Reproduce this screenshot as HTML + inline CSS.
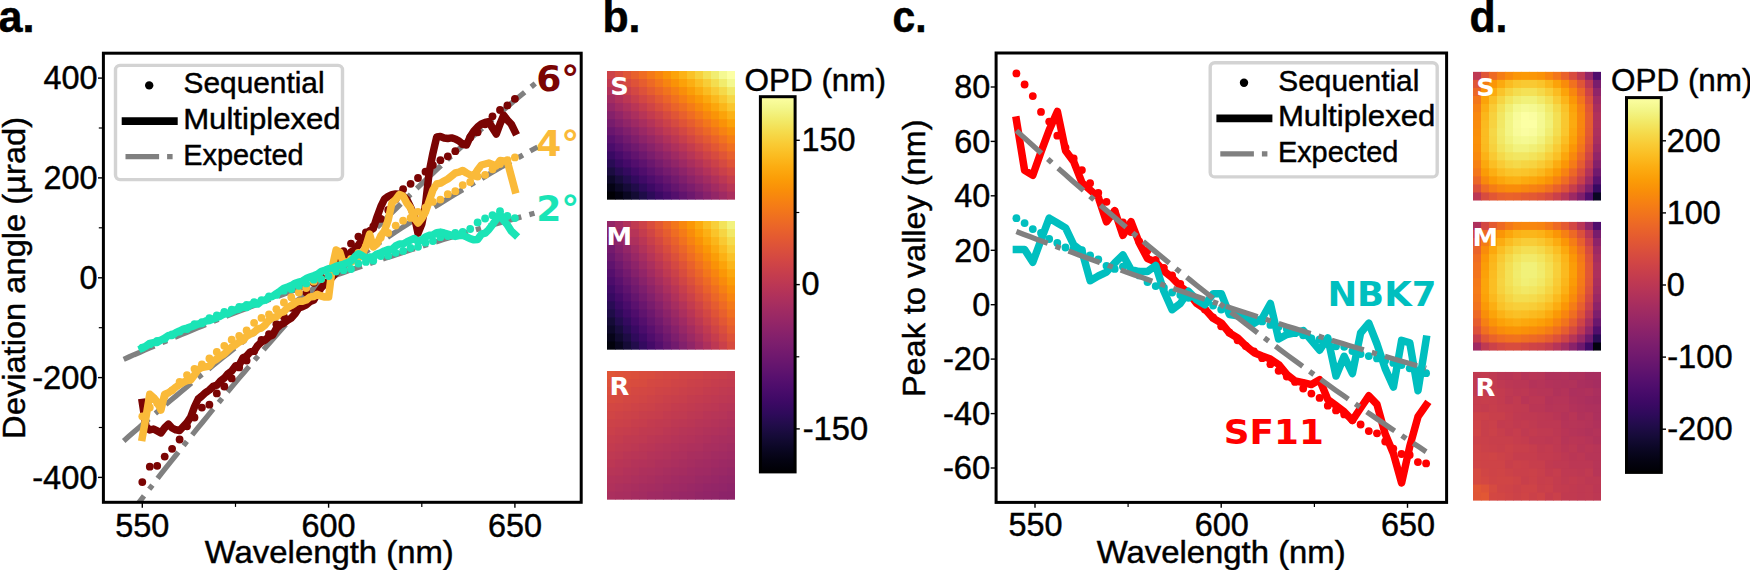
<!DOCTYPE html>
<html lang="en"><head><meta charset="utf-8"><title>Figure</title>
<style>html,body{margin:0;padding:0;background:#fff;overflow:hidden}svg{display:block}text{white-space:pre}</style>
</head><body>
<svg width="1750" height="570" viewBox="0 0 1750 570">
<rect width="1750" height="570" fill="#fff"/>
<defs>
<linearGradient id="inf" x1="0" y1="0" x2="0" y2="1"><stop offset="0.0000" stop-color="#fcffa4"/><stop offset="0.0312" stop-color="#f3f68a"/><stop offset="0.0625" stop-color="#f2ea69"/><stop offset="0.0938" stop-color="#f5db4c"/><stop offset="0.1250" stop-color="#f9cb35"/><stop offset="0.1562" stop-color="#fbbc21"/><stop offset="0.1875" stop-color="#fcac11"/><stop offset="0.2188" stop-color="#fb9d07"/><stop offset="0.2500" stop-color="#f98e09"/><stop offset="0.2812" stop-color="#f68013"/><stop offset="0.3125" stop-color="#f1731d"/><stop offset="0.3438" stop-color="#eb6628"/><stop offset="0.3750" stop-color="#e45a31"/><stop offset="0.4062" stop-color="#db503b"/><stop offset="0.4375" stop-color="#d24644"/><stop offset="0.4688" stop-color="#c73e4c"/><stop offset="0.5000" stop-color="#bc3754"/><stop offset="0.5312" stop-color="#b0315b"/><stop offset="0.5625" stop-color="#a32c61"/><stop offset="0.5938" stop-color="#972766"/><stop offset="0.6250" stop-color="#8a226a"/><stop offset="0.6562" stop-color="#7d1e6d"/><stop offset="0.6875" stop-color="#71196e"/><stop offset="0.7188" stop-color="#64156e"/><stop offset="0.7500" stop-color="#57106e"/><stop offset="0.7812" stop-color="#4a0c6b"/><stop offset="0.8125" stop-color="#3d0965"/><stop offset="0.8438" stop-color="#2f0a5b"/><stop offset="0.8750" stop-color="#210c4a"/><stop offset="0.9062" stop-color="#150b37"/><stop offset="0.9375" stop-color="#0b0724"/><stop offset="0.9688" stop-color="#040312"/><stop offset="1.0000" stop-color="#000004"/></linearGradient>
<clipPath id="clipA"><rect x="103.4" y="53.2" width="477.8" height="449.1"/></clipPath>
<clipPath id="clipC"><rect x="996.1" y="53.0" width="450.5" height="449.4"/></clipPath>
</defs>
<g clip-path="url(#clipA)">
<path d="M123.7,522.5 L128.9,515.6 L134.1,508.7 L139.4,501.9 L144.6,495.1 L149.9,488.3 L155.1,481.6 L160.3,474.9 L165.6,468.2 L170.8,461.6 L176.1,455.0 L181.3,448.4 L186.5,441.9 L191.8,435.4 L197.0,428.9 L202.3,422.5 L207.5,416.1 L212.7,409.7 L218.0,403.4 L223.2,397.1 L228.5,390.8 L233.7,384.6 L238.9,378.4 L244.2,372.3 L249.4,366.1 L254.7,360.1 L259.9,354.0 L265.1,348.0 L270.4,342.0 L275.6,336.0 L280.9,330.1 L286.1,324.2 L291.3,318.4 L296.6,312.6 L301.8,306.8 L307.1,301.0 L312.3,295.3 L317.5,289.6 L322.8,284.0 L328.0,278.4 L333.3,272.8 L338.5,267.2 L343.7,261.7 L349.0,256.2 L354.2,250.8 L359.5,245.4 L364.7,240.0 L369.9,234.7 L375.2,229.4 L380.4,224.1 L385.7,218.8 L390.9,213.6 L396.1,208.5 L401.4,203.3 L406.6,198.2 L411.9,193.1 L417.1,188.1 L422.3,183.1 L427.6,178.1 L432.8,173.2 L438.1,168.3 L443.3,163.4 L448.5,158.6 L453.8,153.8 L459.0,149.0 L464.3,144.3 L469.5,139.6 L474.7,134.9 L480.0,130.3 L485.2,125.7 L490.5,121.1 L495.7,116.6 L500.9,112.1 L506.2,107.7 L511.4,103.2 L516.7,98.8 L521.9,94.5 L527.1,90.2 L532.4,85.9 L537.6,81.6" fill="none" stroke="#808080" stroke-width="5.3" stroke-linejoin="round" stroke-linecap="butt" stroke-dasharray="33.5 8.4 5.3 8.4"/>
<path d="M123.7,440.9 L128.9,436.3 L134.1,431.7 L139.4,427.2 L144.6,422.6 L149.9,418.1 L155.1,413.6 L160.3,409.2 L165.6,404.7 L170.8,400.3 L176.1,395.9 L181.3,391.5 L186.5,387.2 L191.8,382.8 L197.0,378.5 L202.3,374.2 L207.5,370.0 L212.7,365.7 L218.0,361.5 L223.2,357.3 L228.5,353.1 L233.7,349.0 L238.9,344.9 L244.2,340.8 L249.4,336.7 L254.7,332.6 L259.9,328.6 L265.1,324.6 L270.4,320.6 L275.6,316.6 L280.9,312.7 L286.1,308.7 L291.3,304.8 L296.6,301.0 L301.8,297.1 L307.1,293.3 L312.3,289.5 L317.5,285.7 L322.8,281.9 L328.0,278.2 L333.3,274.4 L338.5,270.7 L343.7,267.1 L349.0,263.4 L354.2,259.8 L359.5,256.2 L364.7,252.6 L369.9,249.0 L375.2,245.5 L380.4,242.0 L385.7,238.5 L390.9,235.0 L396.1,231.6 L401.4,228.1 L406.6,224.7 L411.9,221.3 L417.1,218.0 L422.3,214.6 L427.6,211.3 L432.8,208.0 L438.1,204.8 L443.3,201.5 L448.5,198.3 L453.8,195.1 L459.0,191.9 L464.3,188.8 L469.5,185.6 L474.7,182.5 L480.0,179.5 L485.2,176.4 L490.5,173.3 L495.7,170.3 L500.9,167.3 L506.2,164.4 L511.4,161.4 L516.7,158.5 L521.9,155.6 L527.1,152.7 L532.4,149.8 L537.6,147.0" fill="none" stroke="#808080" stroke-width="5.3" stroke-linejoin="round" stroke-linecap="butt" stroke-dasharray="33.5 8.4 5.3 8.4"/>
<path d="M123.7,359.3 L128.9,357.0 L134.1,354.7 L139.4,352.5 L144.6,350.2 L149.9,347.9 L155.1,345.7 L160.3,343.5 L165.6,341.2 L170.8,339.0 L176.1,336.8 L181.3,334.6 L186.5,332.5 L191.8,330.3 L197.0,328.1 L202.3,326.0 L207.5,323.9 L212.7,321.7 L218.0,319.6 L223.2,317.5 L228.5,315.4 L233.7,313.4 L238.9,311.3 L244.2,309.3 L249.4,307.2 L254.7,305.2 L259.9,303.2 L265.1,301.2 L270.4,299.2 L275.6,297.2 L280.9,295.2 L286.1,293.2 L291.3,291.3 L296.6,289.4 L301.8,287.4 L307.1,285.5 L312.3,283.6 L317.5,281.7 L322.8,279.8 L328.0,278.0 L333.3,276.1 L338.5,274.2 L343.7,272.4 L349.0,270.6 L354.2,268.8 L359.5,267.0 L364.7,265.2 L369.9,263.4 L375.2,261.6 L380.4,259.9 L385.7,258.1 L390.9,256.4 L396.1,254.7 L401.4,252.9 L406.6,251.2 L411.9,249.5 L417.1,247.9 L422.3,246.2 L427.6,244.5 L432.8,242.9 L438.1,241.3 L443.3,239.6 L448.5,238.0 L453.8,236.4 L459.0,234.8 L464.3,233.3 L469.5,231.7 L474.7,230.1 L480.0,228.6 L485.2,227.1 L490.5,225.5 L495.7,224.0 L500.9,222.5 L506.2,221.1 L511.4,219.6 L516.7,218.1 L521.9,216.7 L527.1,215.2 L532.4,213.8 L537.6,212.4" fill="none" stroke="#808080" stroke-width="5.3" stroke-linejoin="round" stroke-linecap="butt" stroke-dasharray="33.5 8.4 5.3 8.4"/>
<g fill="#7a0403"><circle cx="142.3" cy="482.1" r="3.9"/><circle cx="149.8" cy="466.7" r="3.9"/><circle cx="157.2" cy="465.8" r="3.9"/><circle cx="164.7" cy="456.6" r="3.9"/><circle cx="172.1" cy="448.8" r="3.9"/><circle cx="179.6" cy="439.5" r="3.9"/><circle cx="187.0" cy="426.3" r="3.9"/><circle cx="194.5" cy="417.5" r="3.9"/><circle cx="201.9" cy="407.6" r="3.9"/><circle cx="209.4" cy="404.7" r="3.9"/><circle cx="216.8" cy="393.4" r="3.9"/><circle cx="224.3" cy="386.5" r="3.9"/><circle cx="231.7" cy="378.4" r="3.9"/><circle cx="239.2" cy="367.4" r="3.9"/><circle cx="246.6" cy="360.6" r="3.9"/><circle cx="254.1" cy="351.2" r="3.9"/><circle cx="261.5" cy="339.8" r="3.9"/><circle cx="269.0" cy="334.1" r="3.9"/><circle cx="276.4" cy="324.2" r="3.9"/><circle cx="283.9" cy="316.7" r="3.9"/><circle cx="291.3" cy="307.8" r="3.9"/><circle cx="298.8" cy="301.7" r="3.9"/><circle cx="306.2" cy="292.3" r="3.9"/><circle cx="313.7" cy="282.8" r="3.9"/><circle cx="321.1" cy="276.9" r="3.9"/><circle cx="328.6" cy="270.2" r="3.9"/><circle cx="336.1" cy="259.7" r="3.9"/><circle cx="343.5" cy="251.2" r="3.9"/><circle cx="351.0" cy="243.6" r="3.9"/><circle cx="358.4" cy="236.6" r="3.9"/><circle cx="365.9" cy="232.5" r="3.9"/><circle cx="373.3" cy="226.3" r="3.9"/><circle cx="380.8" cy="218.9" r="3.9"/><circle cx="388.2" cy="210.0" r="3.9"/><circle cx="395.7" cy="199.1" r="3.9"/><circle cx="403.1" cy="189.2" r="3.9"/><circle cx="410.6" cy="183.8" r="3.9"/><circle cx="418.0" cy="178.0" r="3.9"/><circle cx="425.5" cy="171.7" r="3.9"/><circle cx="432.9" cy="165.1" r="3.9"/><circle cx="440.4" cy="160.2" r="3.9"/><circle cx="447.8" cy="156.3" r="3.9"/><circle cx="455.3" cy="151.2" r="3.9"/><circle cx="462.7" cy="143.9" r="3.9"/><circle cx="470.2" cy="137.4" r="3.9"/><circle cx="477.6" cy="132.3" r="3.9"/><circle cx="485.1" cy="124.3" r="3.9"/><circle cx="492.5" cy="116.3" r="3.9"/><circle cx="500.0" cy="109.9" r="3.9"/><circle cx="507.4" cy="105.4" r="3.9"/><circle cx="514.9" cy="98.8" r="3.9"/></g>
<path d="M142.3,402.5 L146.0,426.5 L149.8,430.0 L153.5,429.0 L157.2,430.9 L160.9,432.9 L164.7,427.8 L168.4,424.2 L172.1,428.0 L175.8,429.8 L179.6,430.5 L183.3,426.5 L187.0,422.6 L190.7,417.0 L194.5,406.9 L198.2,399.0 L201.9,396.0 L205.6,392.6 L209.4,390.0 L213.1,386.3 L216.8,385.2 L220.5,381.0 L224.3,378.1 L228.0,373.7 L231.7,371.0 L235.5,365.9 L239.2,365.0 L242.9,357.9 L246.6,356.0 L250.4,351.8 L254.1,351.0 L257.8,345.4 L261.5,342.0 L265.3,339.9 L269.0,336.7 L272.7,335.0 L276.4,328.4 L280.2,325.0 L283.9,323.1 L287.6,320.2 L291.3,318.0 L295.1,313.8 L298.8,308.0 L302.5,306.7 L306.2,304.8 L310.0,301.7 L313.7,300.0 L317.4,293.6 L321.1,288.0 L324.9,284.1 L328.6,281.3 L332.3,277.0 L336.1,272.6 L339.8,267.2 L343.5,262.0 L347.2,256.3 L351.0,252.0 L354.7,249.8 L358.4,245.0 L362.1,240.0 L365.9,235.5 L369.6,230.7 L373.3,228.6 L377.0,217.0 L380.8,206.7 L384.5,199.0 L388.2,196.4 L391.9,194.7 L395.7,194.0 L399.4,194.2 L403.1,196.0 L406.8,199.5 L410.6,207.2 L414.3,216.0 L418.0,233.2 L421.8,224.0 L425.5,205.0 L429.2,172.0 L432.9,153.3 L436.7,137.0 L440.4,136.5 L444.1,138.0 L447.8,138.5 L451.6,137.9 L455.3,139.0 L459.0,141.0 L462.7,144.1 L466.5,145.0 L470.2,136.8 L473.9,131.0 L477.6,127.0 L481.4,124.0 L485.1,122.5 L488.8,121.6 L492.5,128.0 L496.3,134.0 L500.0,124.0 L503.7,115.3 L507.4,120.1 L511.2,124.0 L514.9,131.5" fill="none" stroke="#7a0403" stroke-width="7.5" stroke-linejoin="round" stroke-linecap="square"/>
<g fill="#faba39"><circle cx="142.3" cy="416.3" r="3.9"/><circle cx="149.8" cy="407.5" r="3.9"/><circle cx="157.2" cy="403.1" r="3.9"/><circle cx="164.7" cy="396.3" r="3.9"/><circle cx="172.1" cy="390.3" r="3.9"/><circle cx="179.6" cy="382.0" r="3.9"/><circle cx="187.0" cy="375.1" r="3.9"/><circle cx="194.5" cy="368.8" r="3.9"/><circle cx="201.9" cy="364.3" r="3.9"/><circle cx="209.4" cy="358.4" r="3.9"/><circle cx="216.8" cy="352.0" r="3.9"/><circle cx="224.3" cy="345.8" r="3.9"/><circle cx="231.7" cy="339.7" r="3.9"/><circle cx="239.2" cy="335.8" r="3.9"/><circle cx="246.6" cy="330.5" r="3.9"/><circle cx="254.1" cy="322.8" r="3.9"/><circle cx="261.5" cy="317.9" r="3.9"/><circle cx="269.0" cy="314.4" r="3.9"/><circle cx="276.4" cy="309.2" r="3.9"/><circle cx="283.9" cy="302.4" r="3.9"/><circle cx="291.3" cy="297.2" r="3.9"/><circle cx="298.8" cy="292.6" r="3.9"/><circle cx="306.2" cy="288.0" r="3.9"/><circle cx="313.7" cy="281.7" r="3.9"/><circle cx="321.1" cy="279.1" r="3.9"/><circle cx="328.6" cy="273.4" r="3.9"/><circle cx="336.1" cy="268.8" r="3.9"/><circle cx="343.5" cy="261.8" r="3.9"/><circle cx="351.0" cy="258.8" r="3.9"/><circle cx="358.4" cy="253.0" r="3.9"/><circle cx="365.9" cy="246.6" r="3.9"/><circle cx="373.3" cy="243.3" r="3.9"/><circle cx="380.8" cy="237.5" r="3.9"/><circle cx="388.2" cy="232.9" r="3.9"/><circle cx="395.7" cy="225.6" r="3.9"/><circle cx="403.1" cy="220.7" r="3.9"/><circle cx="410.6" cy="217.9" r="3.9"/><circle cx="418.0" cy="211.8" r="3.9"/><circle cx="425.5" cy="207.6" r="3.9"/><circle cx="432.9" cy="201.8" r="3.9"/><circle cx="440.4" cy="199.6" r="3.9"/><circle cx="447.8" cy="194.2" r="3.9"/><circle cx="455.3" cy="191.2" r="3.9"/><circle cx="462.7" cy="185.1" r="3.9"/><circle cx="470.2" cy="182.0" r="3.9"/><circle cx="477.6" cy="176.5" r="3.9"/><circle cx="485.1" cy="174.8" r="3.9"/><circle cx="492.5" cy="169.3" r="3.9"/><circle cx="500.0" cy="164.1" r="3.9"/><circle cx="507.4" cy="160.1" r="3.9"/><circle cx="514.9" cy="157.4" r="3.9"/></g>
<path d="M142.3,437.5 L146.0,417.0 L149.8,394.2 L153.5,397.5 L157.2,402.0 L160.9,410.0 L164.7,394.2 L168.4,392.9 L172.1,390.3 L175.8,387.1 L179.6,384.7 L183.3,382.2 L187.0,380.6 L190.7,380.0 L194.5,375.0 L198.2,369.5 L201.9,367.5 L205.6,366.9 L209.4,366.0 L213.1,361.3 L216.8,359.0 L220.5,356.1 L224.3,354.0 L228.0,350.2 L231.7,347.0 L235.5,344.9 L239.2,342.0 L242.9,340.5 L246.6,336.1 L250.4,334.0 L254.1,332.3 L257.8,328.8 L261.5,328.0 L265.3,324.8 L269.0,320.0 L272.7,317.6 L276.4,316.7 L280.2,313.0 L283.9,311.8 L287.6,307.5 L291.3,305.5 L295.1,303.0 L298.8,301.2 L302.5,301.2 L306.2,300.0 L310.0,296.9 L313.7,296.6 L317.4,294.3 L321.1,296.0 L324.9,297.0 L328.6,297.0 L332.3,267.2 L336.1,250.0 L339.8,252.0 L343.5,264.0 L347.2,261.8 L351.0,262.0 L354.7,259.7 L358.4,258.0 L362.1,254.8 L365.9,246.0 L369.6,234.2 L373.3,247.0 L377.0,243.8 L380.8,235.8 L384.5,230.9 L388.2,220.0 L391.9,203.0 L395.7,199.4 L399.4,194.5 L403.1,196.0 L406.8,203.0 L410.6,208.0 L414.3,218.0 L418.0,223.0 L421.8,218.4 L425.5,211.9 L429.2,201.0 L432.9,190.0 L436.7,184.0 L440.4,183.2 L444.1,181.0 L447.8,179.0 L451.6,176.0 L455.3,173.0 L459.0,172.2 L462.7,170.5 L466.5,173.0 L470.2,174.8 L473.9,176.0 L477.6,170.0 L481.4,165.0 L485.1,164.0 L488.8,163.0 L492.5,164.4 L496.3,166.0 L500.0,160.5 L503.7,161.0 L507.4,161.6 L511.2,176.0 L514.9,189.8" fill="none" stroke="#faba39" stroke-width="7.5" stroke-linejoin="round" stroke-linecap="square"/>
<g fill="#1ae4b6"><circle cx="142.3" cy="347.7" r="3.9"/><circle cx="149.8" cy="344.2" r="3.9"/><circle cx="157.2" cy="341.0" r="3.9"/><circle cx="164.7" cy="338.8" r="3.9"/><circle cx="172.1" cy="334.5" r="3.9"/><circle cx="179.6" cy="331.6" r="3.9"/><circle cx="187.0" cy="329.0" r="3.9"/><circle cx="194.5" cy="324.2" r="3.9"/><circle cx="201.9" cy="322.2" r="3.9"/><circle cx="209.4" cy="318.2" r="3.9"/><circle cx="216.8" cy="315.4" r="3.9"/><circle cx="224.3" cy="312.0" r="3.9"/><circle cx="231.7" cy="309.7" r="3.9"/><circle cx="239.2" cy="306.8" r="3.9"/><circle cx="246.6" cy="304.8" r="3.9"/><circle cx="254.1" cy="302.1" r="3.9"/><circle cx="261.5" cy="300.1" r="3.9"/><circle cx="269.0" cy="296.4" r="3.9"/><circle cx="276.4" cy="294.9" r="3.9"/><circle cx="283.9" cy="290.7" r="3.9"/><circle cx="291.3" cy="289.0" r="3.9"/><circle cx="298.8" cy="285.8" r="3.9"/><circle cx="306.2" cy="283.4" r="3.9"/><circle cx="313.7" cy="279.7" r="3.9"/><circle cx="321.1" cy="279.1" r="3.9"/><circle cx="328.6" cy="276.1" r="3.9"/><circle cx="336.1" cy="271.6" r="3.9"/><circle cx="343.5" cy="270.2" r="3.9"/><circle cx="351.0" cy="269.0" r="3.9"/><circle cx="358.4" cy="263.6" r="3.9"/><circle cx="365.9" cy="261.9" r="3.9"/><circle cx="373.3" cy="260.7" r="3.9"/><circle cx="380.8" cy="256.1" r="3.9"/><circle cx="388.2" cy="255.8" r="3.9"/><circle cx="395.7" cy="252.8" r="3.9"/><circle cx="403.1" cy="250.9" r="3.9"/><circle cx="410.6" cy="248.0" r="3.9"/><circle cx="418.0" cy="246.8" r="3.9"/><circle cx="425.5" cy="242.7" r="3.9"/><circle cx="432.9" cy="241.1" r="3.9"/><circle cx="440.4" cy="237.2" r="3.9"/><circle cx="447.8" cy="236.0" r="3.9"/><circle cx="455.3" cy="232.8" r="3.9"/><circle cx="462.7" cy="231.8" r="3.9"/><circle cx="470.2" cy="229.0" r="3.9"/><circle cx="477.6" cy="222.4" r="3.9"/><circle cx="485.1" cy="218.5" r="3.9"/><circle cx="492.5" cy="215.2" r="3.9"/><circle cx="500.0" cy="211.2" r="3.9"/><circle cx="507.4" cy="216.0" r="3.9"/><circle cx="514.9" cy="218.1" r="3.9"/></g>
<path d="M142.3,348.0 L146.0,346.1 L149.8,343.4 L153.5,342.6 L157.2,342.4 L160.9,340.0 L164.7,338.1 L168.4,335.5 L172.1,335.6 L175.8,332.7 L179.6,331.0 L183.3,329.1 L187.0,328.1 L190.7,326.9 L194.5,325.7 L198.2,324.0 L201.9,323.6 L205.6,321.0 L209.4,320.5 L213.1,319.0 L216.8,317.7 L220.5,316.0 L224.3,314.0 L228.0,313.8 L231.7,311.6 L235.5,309.8 L239.2,309.0 L242.9,306.8 L246.6,307.6 L250.4,304.9 L254.1,303.8 L257.8,304.0 L261.5,301.0 L265.3,300.2 L269.0,297.3 L272.7,296.3 L276.4,293.6 L280.2,291.0 L283.9,288.2 L287.6,287.0 L291.3,285.6 L295.1,283.3 L298.8,282.1 L302.5,281.0 L306.2,278.6 L310.0,277.1 L313.7,275.7 L317.4,274.2 L321.1,271.6 L324.9,270.2 L328.6,268.7 L332.3,268.2 L336.1,266.3 L339.8,265.1 L343.5,264.3 L347.2,262.8 L351.0,261.0 L354.7,256.9 L358.4,253.7 L362.1,255.6 L365.9,258.0 L369.6,257.1 L373.3,257.0 L377.0,254.0 L380.8,252.9 L384.5,250.9 L388.2,249.5 L391.9,249.5 L395.7,245.9 L399.4,244.0 L403.1,244.0 L406.8,242.0 L410.6,240.2 L414.3,238.5 L418.0,241.6 L421.8,240.0 L425.5,237.0 L429.2,235.3 L432.9,235.0 L436.7,232.6 L440.4,232.1 L444.1,233.0 L447.8,234.1 L451.6,235.3 L455.3,236.4 L459.0,235.6 L462.7,235.3 L466.5,236.9 L470.2,238.7 L473.9,239.8 L477.6,239.5 L481.4,234.2 L485.1,233.2 L488.8,229.6 L492.5,224.7 L496.3,219.3 L500.0,214.2 L503.7,220.5 L507.4,224.9 L511.2,231.0 L514.9,234.5" fill="none" stroke="#1ae4b6" stroke-width="7.5" stroke-linejoin="round" stroke-linecap="square"/>
</g>
<rect x="103.4" y="53.2" width="477.8" height="449.1" fill="none" stroke="#000" stroke-width="3.0"/>
<path d="M142.3,502.3 v5.4" stroke="#000" stroke-width="1.4"/>
<path d="M328.6,502.3 v5.4" stroke="#000" stroke-width="1.4"/>
<path d="M514.9,502.3 v5.4" stroke="#000" stroke-width="1.4"/>
<path d="M235.5,502.3 v4.6" stroke="#000" stroke-width="1.2"/>
<path d="M421.8,502.3 v4.6" stroke="#000" stroke-width="1.2"/>
<path d="M103.4,78.1 h-5.4" stroke="#000" stroke-width="1.4"/>
<path d="M103.4,177.9 h-5.4" stroke="#000" stroke-width="1.4"/>
<path d="M103.4,277.8 h-5.4" stroke="#000" stroke-width="1.4"/>
<path d="M103.4,377.6 h-5.4" stroke="#000" stroke-width="1.4"/>
<path d="M103.4,477.4 h-5.4" stroke="#000" stroke-width="1.4"/>
<path d="M103.4,128.0 h-4.6" stroke="#000" stroke-width="1.2"/>
<path d="M103.4,227.8 h-4.6" stroke="#000" stroke-width="1.2"/>
<path d="M103.4,327.7 h-4.6" stroke="#000" stroke-width="1.2"/>
<path d="M103.4,427.5 h-4.6" stroke="#000" stroke-width="1.2"/>
<text x="97.6" y="89.4" font-size="32.5" font-family="'Liberation Sans', sans-serif" text-anchor="end" textLength="54.0" lengthAdjust="spacingAndGlyphs" stroke="#000" stroke-width="0.45">400</text>
<text x="97.6" y="189.2" font-size="32.5" font-family="'Liberation Sans', sans-serif" text-anchor="end" textLength="54.0" lengthAdjust="spacingAndGlyphs" stroke="#000" stroke-width="0.45">200</text>
<text x="97.6" y="289.1" font-size="32.5" font-family="'Liberation Sans', sans-serif" text-anchor="end" textLength="18.0" lengthAdjust="spacingAndGlyphs" stroke="#000" stroke-width="0.45">0</text>
<text x="97.6" y="388.9" font-size="32.5" font-family="'Liberation Sans', sans-serif" text-anchor="end" textLength="65.4" lengthAdjust="spacingAndGlyphs" stroke="#000" stroke-width="0.45">-200</text>
<text x="97.6" y="488.7" font-size="32.5" font-family="'Liberation Sans', sans-serif" text-anchor="end" textLength="65.4" lengthAdjust="spacingAndGlyphs" stroke="#000" stroke-width="0.45">-400</text>
<text x="142.3" y="536.6" font-size="32.5" font-family="'Liberation Sans', sans-serif" text-anchor="middle" textLength="54.0" lengthAdjust="spacingAndGlyphs" stroke="#000" stroke-width="0.45">550</text>
<text x="328.6" y="536.6" font-size="32.5" font-family="'Liberation Sans', sans-serif" text-anchor="middle" textLength="54.0" lengthAdjust="spacingAndGlyphs" stroke="#000" stroke-width="0.45">600</text>
<text x="514.9" y="536.6" font-size="32.5" font-family="'Liberation Sans', sans-serif" text-anchor="middle" textLength="54.0" lengthAdjust="spacingAndGlyphs" stroke="#000" stroke-width="0.45">650</text>
<text x="329.3" y="563.0" font-size="31.5" font-family="'Liberation Sans', sans-serif" text-anchor="middle" textLength="249.0" lengthAdjust="spacingAndGlyphs" stroke="#000" stroke-width="0.45">Wavelength (nm)</text>
<text x="25.2" y="277.9" font-size="31.5" font-family="'Liberation Sans', sans-serif" text-anchor="middle" textLength="322.0" lengthAdjust="spacingAndGlyphs" stroke="#000" stroke-width="0.45" transform="rotate(-90 25.2 277.9)">Deviation angle (µrad)</text>
<rect x="115.5" y="65.4" width="227" height="114.2" rx="4.5" fill="#fff" fill-opacity="0.8" stroke="#d3d3d3" stroke-width="3.4"/>
<circle cx="149.2" cy="85.4" r="4.2"/>
<path d="M121.7,121.1 h56" stroke="#000" stroke-width="7.6"/>
<path d="M125.5,156.6 h33.6 m8,0 h5.5" stroke="#808080" stroke-width="5.4"/>
<text x="183.6" y="93.4" font-size="30" font-family="'Liberation Sans', sans-serif" textLength="141.0" lengthAdjust="spacingAndGlyphs" stroke="#000" stroke-width="0.45">Sequential</text>
<text x="183.2" y="129.0" font-size="30" font-family="'Liberation Sans', sans-serif" textLength="157.5" lengthAdjust="spacingAndGlyphs" stroke="#000" stroke-width="0.45">Multiplexed</text>
<text x="183.2" y="164.6" font-size="30" font-family="'Liberation Sans', sans-serif" textLength="120.5" lengthAdjust="spacingAndGlyphs" stroke="#000" stroke-width="0.45">Expected</text>
<text x="536.2" y="91.0" font-size="35.2" font-family="'DejaVu Sans', 'Liberation Sans', sans-serif" textLength="43.2" lengthAdjust="spacingAndGlyphs" font-weight="bold" fill="#7a0403">6°</text>
<text x="536.2" y="156.0" font-size="35.2" font-family="'DejaVu Sans', 'Liberation Sans', sans-serif" textLength="43.2" lengthAdjust="spacingAndGlyphs" font-weight="bold" fill="#faba39">4°</text>
<text x="536.2" y="220.5" font-size="35.2" font-family="'DejaVu Sans', 'Liberation Sans', sans-serif" textLength="43.2" lengthAdjust="spacingAndGlyphs" font-weight="bold" fill="#1ae4b6">2°</text>
<text x="-1.5" y="32.2" font-size="44" font-family="'Liberation Sans', sans-serif" textLength="36.0" lengthAdjust="spacingAndGlyphs" font-weight="bold" stroke="#000" stroke-width="0.5">a.</text>
<text x="602.5" y="32.2" font-size="44" font-family="'Liberation Sans', sans-serif" textLength="38.0" lengthAdjust="spacingAndGlyphs" font-weight="bold" stroke="#000" stroke-width="0.5">b.</text>
<text x="892.5" y="32.2" font-size="44" font-family="'Liberation Sans', sans-serif" textLength="34.0" lengthAdjust="spacingAndGlyphs" font-weight="bold" stroke="#000" stroke-width="0.5">c.</text>
<text x="1469.5" y="32.2" font-size="44" font-family="'Liberation Sans', sans-serif" textLength="38.0" lengthAdjust="spacingAndGlyphs" font-weight="bold" stroke="#000" stroke-width="0.5">d.</text>
<g transform="translate(607,71)">
<rect x="0" y="0.00" width="8.5" height="9.7" fill="#cc4248"/>
<rect x="8" y="0.00" width="8.5" height="9.7" fill="#d74b3f"/>
<rect x="16" y="0.00" width="8.5" height="9.7" fill="#e05536"/>
<rect x="24" y="0.00" width="8.5" height="9.7" fill="#e8602d"/>
<rect x="32" y="0.00" width="8.5" height="9.7" fill="#ef6c23"/>
<rect x="40" y="0.00" width="8.5" height="9.7" fill="#f47918"/>
<rect x="48" y="0.00" width="8.5" height="9.7" fill="#f8850f"/>
<rect x="56" y="0.00" width="8.5" height="9.7" fill="#fa9407"/>
<rect x="64" y="0.00" width="8.5" height="9.7" fill="#fca309"/>
<rect x="72" y="0.00" width="8.5" height="9.7" fill="#fcb216"/>
<rect x="80" y="0.00" width="8.5" height="9.7" fill="#fac228"/>
<rect x="88" y="0.00" width="8.5" height="9.7" fill="#f7d13d"/>
<rect x="96" y="0.00" width="8.5" height="9.7" fill="#f4e156"/>
<rect x="104" y="0.00" width="8.5" height="9.7" fill="#f1ed71"/>
<rect x="112" y="0.00" width="8.5" height="9.7" fill="#f5f992"/>
<rect x="120" y="0.00" width="8" height="9.7" fill="#fcffa4"/>
<rect x="0" y="8.04" width="8.5" height="9.7" fill="#c03a51"/>
<rect x="8" y="8.04" width="8.5" height="9.7" fill="#cb4149"/>
<rect x="16" y="8.04" width="8.5" height="9.7" fill="#d54a41"/>
<rect x="24" y="8.04" width="8.5" height="9.7" fill="#de5238"/>
<rect x="32" y="8.04" width="8.5" height="9.7" fill="#e65d2f"/>
<rect x="40" y="8.04" width="8.5" height="9.7" fill="#ed6925"/>
<rect x="48" y="8.04" width="8.5" height="9.7" fill="#f3761b"/>
<rect x="56" y="8.04" width="8.5" height="9.7" fill="#f78410"/>
<rect x="64" y="8.04" width="8.5" height="9.7" fill="#fa9207"/>
<rect x="72" y="8.04" width="8.5" height="9.7" fill="#fca108"/>
<rect x="80" y="8.04" width="8.5" height="9.7" fill="#fcae12"/>
<rect x="88" y="8.04" width="8.5" height="9.7" fill="#fbbe23"/>
<rect x="96" y="8.04" width="8.5" height="9.7" fill="#f8cd37"/>
<rect x="104" y="8.04" width="8.5" height="9.7" fill="#f4dd4f"/>
<rect x="112" y="8.04" width="8.5" height="9.7" fill="#f1ec6d"/>
<rect x="120" y="8.04" width="8" height="9.7" fill="#f4f88e"/>
<rect x="0" y="16.08" width="8.5" height="9.7" fill="#b3325a"/>
<rect x="8" y="16.08" width="8.5" height="9.7" fill="#bd3853"/>
<rect x="16" y="16.08" width="8.5" height="9.7" fill="#c83f4b"/>
<rect x="24" y="16.08" width="8.5" height="9.7" fill="#d34743"/>
<rect x="32" y="16.08" width="8.5" height="9.7" fill="#dd513a"/>
<rect x="40" y="16.08" width="8.5" height="9.7" fill="#e55c30"/>
<rect x="48" y="16.08" width="8.5" height="9.7" fill="#ec6726"/>
<rect x="56" y="16.08" width="8.5" height="9.7" fill="#f1731d"/>
<rect x="64" y="16.08" width="8.5" height="9.7" fill="#f68013"/>
<rect x="72" y="16.08" width="8.5" height="9.7" fill="#f98e09"/>
<rect x="80" y="16.08" width="8.5" height="9.7" fill="#fb9d07"/>
<rect x="88" y="16.08" width="8.5" height="9.7" fill="#fcac11"/>
<rect x="96" y="16.08" width="8.5" height="9.7" fill="#fbbc21"/>
<rect x="104" y="16.08" width="8.5" height="9.7" fill="#f9cb35"/>
<rect x="112" y="16.08" width="8.5" height="9.7" fill="#f5d949"/>
<rect x="120" y="16.08" width="8" height="9.7" fill="#f2e865"/>
<rect x="0" y="24.13" width="8.5" height="9.7" fill="#a32c61"/>
<rect x="8" y="24.13" width="8.5" height="9.7" fill="#b0315b"/>
<rect x="16" y="24.13" width="8.5" height="9.7" fill="#bc3754"/>
<rect x="24" y="24.13" width="8.5" height="9.7" fill="#c73e4c"/>
<rect x="32" y="24.13" width="8.5" height="9.7" fill="#d24644"/>
<rect x="40" y="24.13" width="8.5" height="9.7" fill="#da4e3c"/>
<rect x="48" y="24.13" width="8.5" height="9.7" fill="#e35933"/>
<rect x="56" y="24.13" width="8.5" height="9.7" fill="#eb6429"/>
<rect x="64" y="24.13" width="8.5" height="9.7" fill="#f1711f"/>
<rect x="72" y="24.13" width="8.5" height="9.7" fill="#f67e14"/>
<rect x="80" y="24.13" width="8.5" height="9.7" fill="#f98c0a"/>
<rect x="88" y="24.13" width="8.5" height="9.7" fill="#fb9906"/>
<rect x="96" y="24.13" width="8.5" height="9.7" fill="#fca80d"/>
<rect x="104" y="24.13" width="8.5" height="9.7" fill="#fbb81d"/>
<rect x="112" y="24.13" width="8.5" height="9.7" fill="#f9c72f"/>
<rect x="120" y="24.13" width="8" height="9.7" fill="#f6d746"/>
<rect x="0" y="32.17" width="8.5" height="9.7" fill="#952667"/>
<rect x="8" y="32.17" width="8.5" height="9.7" fill="#a22b62"/>
<rect x="16" y="32.17" width="8.5" height="9.7" fill="#ad305d"/>
<rect x="24" y="32.17" width="8.5" height="9.7" fill="#b93556"/>
<rect x="32" y="32.17" width="8.5" height="9.7" fill="#c43c4e"/>
<rect x="40" y="32.17" width="8.5" height="9.7" fill="#cf4446"/>
<rect x="48" y="32.17" width="8.5" height="9.7" fill="#d94d3d"/>
<rect x="56" y="32.17" width="8.5" height="9.7" fill="#e25734"/>
<rect x="64" y="32.17" width="8.5" height="9.7" fill="#ea632a"/>
<rect x="72" y="32.17" width="8.5" height="9.7" fill="#ef6e21"/>
<rect x="80" y="32.17" width="8.5" height="9.7" fill="#f57b17"/>
<rect x="88" y="32.17" width="8.5" height="9.7" fill="#f8890c"/>
<rect x="96" y="32.17" width="8.5" height="9.7" fill="#fb9706"/>
<rect x="104" y="32.17" width="8.5" height="9.7" fill="#fca60c"/>
<rect x="112" y="32.17" width="8.5" height="9.7" fill="#fbb61a"/>
<rect x="120" y="32.17" width="8" height="9.7" fill="#fac62d"/>
<rect x="0" y="40.21" width="8.5" height="9.7" fill="#85216b"/>
<rect x="8" y="40.21" width="8.5" height="9.7" fill="#922568"/>
<rect x="16" y="40.21" width="8.5" height="9.7" fill="#9f2a63"/>
<rect x="24" y="40.21" width="8.5" height="9.7" fill="#ab2f5e"/>
<rect x="32" y="40.21" width="8.5" height="9.7" fill="#b73557"/>
<rect x="40" y="40.21" width="8.5" height="9.7" fill="#c33b4f"/>
<rect x="48" y="40.21" width="8.5" height="9.7" fill="#cc4248"/>
<rect x="56" y="40.21" width="8.5" height="9.7" fill="#d74b3f"/>
<rect x="64" y="40.21" width="8.5" height="9.7" fill="#e05536"/>
<rect x="72" y="40.21" width="8.5" height="9.7" fill="#e8602d"/>
<rect x="80" y="40.21" width="8.5" height="9.7" fill="#ef6c23"/>
<rect x="88" y="40.21" width="8.5" height="9.7" fill="#f47918"/>
<rect x="96" y="40.21" width="8.5" height="9.7" fill="#f8870e"/>
<rect x="104" y="40.21" width="8.5" height="9.7" fill="#fa9407"/>
<rect x="112" y="40.21" width="8.5" height="9.7" fill="#fca309"/>
<rect x="120" y="40.21" width="8" height="9.7" fill="#fcb216"/>
<rect x="0" y="48.25" width="8.5" height="9.7" fill="#771c6d"/>
<rect x="8" y="48.25" width="8.5" height="9.7" fill="#84206b"/>
<rect x="16" y="48.25" width="8.5" height="9.7" fill="#902568"/>
<rect x="24" y="48.25" width="8.5" height="9.7" fill="#9d2964"/>
<rect x="32" y="48.25" width="8.5" height="9.7" fill="#a82e5f"/>
<rect x="40" y="48.25" width="8.5" height="9.7" fill="#b43359"/>
<rect x="48" y="48.25" width="8.5" height="9.7" fill="#c03a51"/>
<rect x="56" y="48.25" width="8.5" height="9.7" fill="#cb4149"/>
<rect x="64" y="48.25" width="8.5" height="9.7" fill="#d54a41"/>
<rect x="72" y="48.25" width="8.5" height="9.7" fill="#df5337"/>
<rect x="80" y="48.25" width="8.5" height="9.7" fill="#e65d2f"/>
<rect x="88" y="48.25" width="8.5" height="9.7" fill="#ed6925"/>
<rect x="96" y="48.25" width="8.5" height="9.7" fill="#f3761b"/>
<rect x="104" y="48.25" width="8.5" height="9.7" fill="#f78410"/>
<rect x="112" y="48.25" width="8.5" height="9.7" fill="#fa9207"/>
<rect x="120" y="48.25" width="8" height="9.7" fill="#fca108"/>
<rect x="0" y="56.29" width="8.5" height="9.7" fill="#69166e"/>
<rect x="8" y="56.29" width="8.5" height="9.7" fill="#741a6e"/>
<rect x="16" y="56.29" width="8.5" height="9.7" fill="#801f6c"/>
<rect x="24" y="56.29" width="8.5" height="9.7" fill="#8d2369"/>
<rect x="32" y="56.29" width="8.5" height="9.7" fill="#9a2865"/>
<rect x="40" y="56.29" width="8.5" height="9.7" fill="#a62d60"/>
<rect x="48" y="56.29" width="8.5" height="9.7" fill="#b3325a"/>
<rect x="56" y="56.29" width="8.5" height="9.7" fill="#bf3952"/>
<rect x="64" y="56.29" width="8.5" height="9.7" fill="#c83f4b"/>
<rect x="72" y="56.29" width="8.5" height="9.7" fill="#d34743"/>
<rect x="80" y="56.29" width="8.5" height="9.7" fill="#dd513a"/>
<rect x="88" y="56.29" width="8.5" height="9.7" fill="#e55c30"/>
<rect x="96" y="56.29" width="8.5" height="9.7" fill="#ec6726"/>
<rect x="104" y="56.29" width="8.5" height="9.7" fill="#f2741c"/>
<rect x="112" y="56.29" width="8.5" height="9.7" fill="#f78212"/>
<rect x="120" y="56.29" width="8" height="9.7" fill="#f98e09"/>
<rect x="0" y="64.34" width="8.5" height="9.7" fill="#59106e"/>
<rect x="8" y="64.34" width="8.5" height="9.7" fill="#65156e"/>
<rect x="16" y="64.34" width="8.5" height="9.7" fill="#721a6e"/>
<rect x="24" y="64.34" width="8.5" height="9.7" fill="#7f1e6c"/>
<rect x="32" y="64.34" width="8.5" height="9.7" fill="#8c2369"/>
<rect x="40" y="64.34" width="8.5" height="9.7" fill="#972766"/>
<rect x="48" y="64.34" width="8.5" height="9.7" fill="#a32c61"/>
<rect x="56" y="64.34" width="8.5" height="9.7" fill="#b0315b"/>
<rect x="64" y="64.34" width="8.5" height="9.7" fill="#bc3754"/>
<rect x="72" y="64.34" width="8.5" height="9.7" fill="#c73e4c"/>
<rect x="80" y="64.34" width="8.5" height="9.7" fill="#d24644"/>
<rect x="88" y="64.34" width="8.5" height="9.7" fill="#db503b"/>
<rect x="96" y="64.34" width="8.5" height="9.7" fill="#e35933"/>
<rect x="104" y="64.34" width="8.5" height="9.7" fill="#eb6429"/>
<rect x="112" y="64.34" width="8.5" height="9.7" fill="#f1711f"/>
<rect x="120" y="64.34" width="8" height="9.7" fill="#f67e14"/>
<rect x="0" y="72.38" width="8.5" height="9.7" fill="#4a0c6b"/>
<rect x="8" y="72.38" width="8.5" height="9.7" fill="#57106e"/>
<rect x="16" y="72.38" width="8.5" height="9.7" fill="#64156e"/>
<rect x="24" y="72.38" width="8.5" height="9.7" fill="#6f196e"/>
<rect x="32" y="72.38" width="8.5" height="9.7" fill="#7c1d6d"/>
<rect x="40" y="72.38" width="8.5" height="9.7" fill="#88226a"/>
<rect x="48" y="72.38" width="8.5" height="9.7" fill="#952667"/>
<rect x="56" y="72.38" width="8.5" height="9.7" fill="#a22b62"/>
<rect x="64" y="72.38" width="8.5" height="9.7" fill="#ae305c"/>
<rect x="72" y="72.38" width="8.5" height="9.7" fill="#b93556"/>
<rect x="80" y="72.38" width="8.5" height="9.7" fill="#c43c4e"/>
<rect x="88" y="72.38" width="8.5" height="9.7" fill="#cf4446"/>
<rect x="96" y="72.38" width="8.5" height="9.7" fill="#d94d3d"/>
<rect x="104" y="72.38" width="8.5" height="9.7" fill="#e25734"/>
<rect x="112" y="72.38" width="8.5" height="9.7" fill="#ea632a"/>
<rect x="120" y="72.38" width="8" height="9.7" fill="#f06f20"/>
<rect x="0" y="80.42" width="8.5" height="9.7" fill="#390963"/>
<rect x="8" y="80.42" width="8.5" height="9.7" fill="#470b6a"/>
<rect x="16" y="80.42" width="8.5" height="9.7" fill="#540f6d"/>
<rect x="24" y="80.42" width="8.5" height="9.7" fill="#61136e"/>
<rect x="32" y="80.42" width="8.5" height="9.7" fill="#6d186e"/>
<rect x="40" y="80.42" width="8.5" height="9.7" fill="#7a1d6d"/>
<rect x="48" y="80.42" width="8.5" height="9.7" fill="#87216b"/>
<rect x="56" y="80.42" width="8.5" height="9.7" fill="#922568"/>
<rect x="64" y="80.42" width="8.5" height="9.7" fill="#9f2a63"/>
<rect x="72" y="80.42" width="8.5" height="9.7" fill="#ab2f5e"/>
<rect x="80" y="80.42" width="8.5" height="9.7" fill="#b73557"/>
<rect x="88" y="80.42" width="8.5" height="9.7" fill="#c33b4f"/>
<rect x="96" y="80.42" width="8.5" height="9.7" fill="#ce4347"/>
<rect x="104" y="80.42" width="8.5" height="9.7" fill="#d74b3f"/>
<rect x="112" y="80.42" width="8.5" height="9.7" fill="#e05536"/>
<rect x="120" y="80.42" width="8" height="9.7" fill="#e8602d"/>
<rect x="0" y="88.46" width="8.5" height="9.7" fill="#290b55"/>
<rect x="8" y="88.46" width="8.5" height="9.7" fill="#380962"/>
<rect x="16" y="88.46" width="8.5" height="9.7" fill="#450a69"/>
<rect x="24" y="88.46" width="8.5" height="9.7" fill="#520e6d"/>
<rect x="32" y="88.46" width="8.5" height="9.7" fill="#5d126e"/>
<rect x="40" y="88.46" width="8.5" height="9.7" fill="#6a176e"/>
<rect x="48" y="88.46" width="8.5" height="9.7" fill="#771c6d"/>
<rect x="56" y="88.46" width="8.5" height="9.7" fill="#84206b"/>
<rect x="64" y="88.46" width="8.5" height="9.7" fill="#902568"/>
<rect x="72" y="88.46" width="8.5" height="9.7" fill="#9d2964"/>
<rect x="80" y="88.46" width="8.5" height="9.7" fill="#a92e5e"/>
<rect x="88" y="88.46" width="8.5" height="9.7" fill="#b43359"/>
<rect x="96" y="88.46" width="8.5" height="9.7" fill="#c03a51"/>
<rect x="104" y="88.46" width="8.5" height="9.7" fill="#cb4149"/>
<rect x="112" y="88.46" width="8.5" height="9.7" fill="#d54a41"/>
<rect x="120" y="88.46" width="8" height="9.7" fill="#df5337"/>
<rect x="0" y="96.50" width="8.5" height="9.7" fill="#1b0c41"/>
<rect x="8" y="96.50" width="8.5" height="9.7" fill="#280b53"/>
<rect x="16" y="96.50" width="8.5" height="9.7" fill="#340a5f"/>
<rect x="24" y="96.50" width="8.5" height="9.7" fill="#420a68"/>
<rect x="32" y="96.50" width="8.5" height="9.7" fill="#4f0d6c"/>
<rect x="40" y="96.50" width="8.5" height="9.7" fill="#5c126e"/>
<rect x="48" y="96.50" width="8.5" height="9.7" fill="#69166e"/>
<rect x="56" y="96.50" width="8.5" height="9.7" fill="#751b6e"/>
<rect x="64" y="96.50" width="8.5" height="9.7" fill="#801f6c"/>
<rect x="72" y="96.50" width="8.5" height="9.7" fill="#8d2369"/>
<rect x="80" y="96.50" width="8.5" height="9.7" fill="#9a2865"/>
<rect x="88" y="96.50" width="8.5" height="9.7" fill="#a62d60"/>
<rect x="96" y="96.50" width="8.5" height="9.7" fill="#b3325a"/>
<rect x="104" y="96.50" width="8.5" height="9.7" fill="#bf3952"/>
<rect x="112" y="96.50" width="8.5" height="9.7" fill="#ca404a"/>
<rect x="120" y="96.50" width="8" height="9.7" fill="#d34743"/>
<rect x="0" y="104.55" width="8.5" height="9.7" fill="#0d0829"/>
<rect x="8" y="104.55" width="8.5" height="9.7" fill="#180c3c"/>
<rect x="16" y="104.55" width="8.5" height="9.7" fill="#240c4f"/>
<rect x="24" y="104.55" width="8.5" height="9.7" fill="#320a5e"/>
<rect x="32" y="104.55" width="8.5" height="9.7" fill="#400a67"/>
<rect x="40" y="104.55" width="8.5" height="9.7" fill="#4d0d6c"/>
<rect x="48" y="104.55" width="8.5" height="9.7" fill="#59106e"/>
<rect x="56" y="104.55" width="8.5" height="9.7" fill="#65156e"/>
<rect x="64" y="104.55" width="8.5" height="9.7" fill="#721a6e"/>
<rect x="72" y="104.55" width="8.5" height="9.7" fill="#7f1e6c"/>
<rect x="80" y="104.55" width="8.5" height="9.7" fill="#8c2369"/>
<rect x="88" y="104.55" width="8.5" height="9.7" fill="#982766"/>
<rect x="96" y="104.55" width="8.5" height="9.7" fill="#a32c61"/>
<rect x="104" y="104.55" width="8.5" height="9.7" fill="#b0315b"/>
<rect x="112" y="104.55" width="8.5" height="9.7" fill="#bc3754"/>
<rect x="120" y="104.55" width="8" height="9.7" fill="#c73e4c"/>
<rect x="0" y="112.59" width="8.5" height="9.7" fill="#040314"/>
<rect x="8" y="112.59" width="8.5" height="9.7" fill="#0c0826"/>
<rect x="16" y="112.59" width="8.5" height="9.7" fill="#160b39"/>
<rect x="24" y="112.59" width="8.5" height="9.7" fill="#210c4a"/>
<rect x="32" y="112.59" width="8.5" height="9.7" fill="#2f0a5b"/>
<rect x="40" y="112.59" width="8.5" height="9.7" fill="#3d0965"/>
<rect x="48" y="112.59" width="8.5" height="9.7" fill="#4a0c6b"/>
<rect x="56" y="112.59" width="8.5" height="9.7" fill="#57106e"/>
<rect x="64" y="112.59" width="8.5" height="9.7" fill="#64156e"/>
<rect x="72" y="112.59" width="8.5" height="9.7" fill="#71196e"/>
<rect x="80" y="112.59" width="8.5" height="9.7" fill="#7c1d6d"/>
<rect x="88" y="112.59" width="8.5" height="9.7" fill="#88226a"/>
<rect x="96" y="112.59" width="8.5" height="9.7" fill="#952667"/>
<rect x="104" y="112.59" width="8.5" height="9.7" fill="#a22b62"/>
<rect x="112" y="112.59" width="8.5" height="9.7" fill="#ae305c"/>
<rect x="120" y="112.59" width="8" height="9.7" fill="#ba3655"/>
<rect x="0" y="120.63" width="8.5" height="8.04" fill="#000004"/>
<rect x="8" y="120.63" width="8.5" height="8.04" fill="#030210"/>
<rect x="16" y="120.63" width="8.5" height="8.04" fill="#0a0722"/>
<rect x="24" y="120.63" width="8.5" height="8.04" fill="#140b34"/>
<rect x="32" y="120.63" width="8.5" height="8.04" fill="#1f0c48"/>
<rect x="40" y="120.63" width="8.5" height="8.04" fill="#2d0b59"/>
<rect x="48" y="120.63" width="8.5" height="8.04" fill="#3b0964"/>
<rect x="56" y="120.63" width="8.5" height="8.04" fill="#470b6a"/>
<rect x="64" y="120.63" width="8.5" height="8.04" fill="#540f6d"/>
<rect x="72" y="120.63" width="8.5" height="8.04" fill="#61136e"/>
<rect x="80" y="120.63" width="8.5" height="8.04" fill="#6d186e"/>
<rect x="88" y="120.63" width="8.5" height="8.04" fill="#7a1d6d"/>
<rect x="96" y="120.63" width="8.5" height="8.04" fill="#87216b"/>
<rect x="104" y="120.63" width="8.5" height="8.04" fill="#932667"/>
<rect x="112" y="120.63" width="8.5" height="8.04" fill="#9f2a63"/>
<rect x="120" y="120.63" width="8" height="8.04" fill="#ab2f5e"/>
</g>
<text x="619.4" y="95.1" font-size="24.5" font-family="'DejaVu Sans', 'Liberation Sans', sans-serif" text-anchor="middle" textLength="18.5" lengthAdjust="spacingAndGlyphs" font-weight="bold" fill="#fff">S</text>
<g transform="translate(607,221)">
<rect x="0" y="0.00" width="8.5" height="9.7" fill="#932667"/>
<rect x="8" y="0.00" width="8.5" height="9.7" fill="#a22b62"/>
<rect x="16" y="0.00" width="8.5" height="9.7" fill="#b1325a"/>
<rect x="24" y="0.00" width="8.5" height="9.7" fill="#c03a51"/>
<rect x="32" y="0.00" width="8.5" height="9.7" fill="#cc4248"/>
<rect x="40" y="0.00" width="8.5" height="9.7" fill="#d94d3d"/>
<rect x="48" y="0.00" width="8.5" height="9.7" fill="#e35933"/>
<rect x="56" y="0.00" width="8.5" height="9.7" fill="#ec6726"/>
<rect x="64" y="0.00" width="8.5" height="9.7" fill="#f3761b"/>
<rect x="72" y="0.00" width="8.5" height="9.7" fill="#f8870e"/>
<rect x="80" y="0.00" width="8.5" height="9.7" fill="#fb9706"/>
<rect x="88" y="0.00" width="8.5" height="9.7" fill="#fcaa0f"/>
<rect x="96" y="0.00" width="8.5" height="9.7" fill="#fbbe23"/>
<rect x="104" y="0.00" width="8.5" height="9.7" fill="#f8cf3a"/>
<rect x="112" y="0.00" width="8.5" height="9.7" fill="#f3e35a"/>
<rect x="120" y="0.00" width="8" height="9.7" fill="#f2f27d"/>
<rect x="0" y="8.04" width="8.5" height="9.7" fill="#88226a"/>
<rect x="8" y="8.04" width="8.5" height="9.7" fill="#982766"/>
<rect x="16" y="8.04" width="8.5" height="9.7" fill="#a82e5f"/>
<rect x="24" y="8.04" width="8.5" height="9.7" fill="#b63458"/>
<rect x="32" y="8.04" width="8.5" height="9.7" fill="#c43c4e"/>
<rect x="40" y="8.04" width="8.5" height="9.7" fill="#d04545"/>
<rect x="48" y="8.04" width="8.5" height="9.7" fill="#dd513a"/>
<rect x="56" y="8.04" width="8.5" height="9.7" fill="#e65d2f"/>
<rect x="64" y="8.04" width="8.5" height="9.7" fill="#ef6c23"/>
<rect x="72" y="8.04" width="8.5" height="9.7" fill="#f57b17"/>
<rect x="80" y="8.04" width="8.5" height="9.7" fill="#f98c0a"/>
<rect x="88" y="8.04" width="8.5" height="9.7" fill="#fc9f07"/>
<rect x="96" y="8.04" width="8.5" height="9.7" fill="#fcb014"/>
<rect x="104" y="8.04" width="8.5" height="9.7" fill="#fac42a"/>
<rect x="112" y="8.04" width="8.5" height="9.7" fill="#f6d543"/>
<rect x="120" y="8.04" width="8" height="9.7" fill="#f2e865"/>
<rect x="0" y="16.08" width="8.5" height="9.7" fill="#7f1e6c"/>
<rect x="8" y="16.08" width="8.5" height="9.7" fill="#8d2369"/>
<rect x="16" y="16.08" width="8.5" height="9.7" fill="#9d2964"/>
<rect x="24" y="16.08" width="8.5" height="9.7" fill="#ad305d"/>
<rect x="32" y="16.08" width="8.5" height="9.7" fill="#ba3655"/>
<rect x="40" y="16.08" width="8.5" height="9.7" fill="#c83f4b"/>
<rect x="48" y="16.08" width="8.5" height="9.7" fill="#d44842"/>
<rect x="56" y="16.08" width="8.5" height="9.7" fill="#e05536"/>
<rect x="64" y="16.08" width="8.5" height="9.7" fill="#e9612b"/>
<rect x="72" y="16.08" width="8.5" height="9.7" fill="#f1711f"/>
<rect x="80" y="16.08" width="8.5" height="9.7" fill="#f78212"/>
<rect x="88" y="16.08" width="8.5" height="9.7" fill="#fa9207"/>
<rect x="96" y="16.08" width="8.5" height="9.7" fill="#fca50a"/>
<rect x="104" y="16.08" width="8.5" height="9.7" fill="#fbb61a"/>
<rect x="112" y="16.08" width="8.5" height="9.7" fill="#f9c932"/>
<rect x="120" y="16.08" width="8" height="9.7" fill="#f5db4c"/>
<rect x="0" y="24.13" width="8.5" height="9.7" fill="#741a6e"/>
<rect x="8" y="24.13" width="8.5" height="9.7" fill="#84206b"/>
<rect x="16" y="24.13" width="8.5" height="9.7" fill="#932667"/>
<rect x="24" y="24.13" width="8.5" height="9.7" fill="#a22b62"/>
<rect x="32" y="24.13" width="8.5" height="9.7" fill="#b1325a"/>
<rect x="40" y="24.13" width="8.5" height="9.7" fill="#bf3952"/>
<rect x="48" y="24.13" width="8.5" height="9.7" fill="#cc4248"/>
<rect x="56" y="24.13" width="8.5" height="9.7" fill="#d84c3e"/>
<rect x="64" y="24.13" width="8.5" height="9.7" fill="#e35933"/>
<rect x="72" y="24.13" width="8.5" height="9.7" fill="#eb6628"/>
<rect x="80" y="24.13" width="8.5" height="9.7" fill="#f3761b"/>
<rect x="88" y="24.13" width="8.5" height="9.7" fill="#f8870e"/>
<rect x="96" y="24.13" width="8.5" height="9.7" fill="#fb9706"/>
<rect x="104" y="24.13" width="8.5" height="9.7" fill="#fcaa0f"/>
<rect x="112" y="24.13" width="8.5" height="9.7" fill="#fbbc21"/>
<rect x="120" y="24.13" width="8" height="9.7" fill="#f8cf3a"/>
<rect x="0" y="32.17" width="8.5" height="9.7" fill="#6a176e"/>
<rect x="8" y="32.17" width="8.5" height="9.7" fill="#7a1d6d"/>
<rect x="16" y="32.17" width="8.5" height="9.7" fill="#88226a"/>
<rect x="24" y="32.17" width="8.5" height="9.7" fill="#982766"/>
<rect x="32" y="32.17" width="8.5" height="9.7" fill="#a62d60"/>
<rect x="40" y="32.17" width="8.5" height="9.7" fill="#b63458"/>
<rect x="48" y="32.17" width="8.5" height="9.7" fill="#c33b4f"/>
<rect x="56" y="32.17" width="8.5" height="9.7" fill="#d04545"/>
<rect x="64" y="32.17" width="8.5" height="9.7" fill="#db503b"/>
<rect x="72" y="32.17" width="8.5" height="9.7" fill="#e65d2f"/>
<rect x="80" y="32.17" width="8.5" height="9.7" fill="#ef6c23"/>
<rect x="88" y="32.17" width="8.5" height="9.7" fill="#f57b17"/>
<rect x="96" y="32.17" width="8.5" height="9.7" fill="#f98c0a"/>
<rect x="104" y="32.17" width="8.5" height="9.7" fill="#fb9d07"/>
<rect x="112" y="32.17" width="8.5" height="9.7" fill="#fcb014"/>
<rect x="120" y="32.17" width="8" height="9.7" fill="#fac228"/>
<rect x="0" y="40.21" width="8.5" height="9.7" fill="#5f136e"/>
<rect x="8" y="40.21" width="8.5" height="9.7" fill="#6f196e"/>
<rect x="16" y="40.21" width="8.5" height="9.7" fill="#7f1e6c"/>
<rect x="24" y="40.21" width="8.5" height="9.7" fill="#8d2369"/>
<rect x="32" y="40.21" width="8.5" height="9.7" fill="#9d2964"/>
<rect x="40" y="40.21" width="8.5" height="9.7" fill="#ab2f5e"/>
<rect x="48" y="40.21" width="8.5" height="9.7" fill="#ba3655"/>
<rect x="56" y="40.21" width="8.5" height="9.7" fill="#c73e4c"/>
<rect x="64" y="40.21" width="8.5" height="9.7" fill="#d44842"/>
<rect x="72" y="40.21" width="8.5" height="9.7" fill="#df5337"/>
<rect x="80" y="40.21" width="8.5" height="9.7" fill="#e9612b"/>
<rect x="88" y="40.21" width="8.5" height="9.7" fill="#f1711f"/>
<rect x="96" y="40.21" width="8.5" height="9.7" fill="#f68013"/>
<rect x="104" y="40.21" width="8.5" height="9.7" fill="#fa9207"/>
<rect x="112" y="40.21" width="8.5" height="9.7" fill="#fca309"/>
<rect x="120" y="40.21" width="8" height="9.7" fill="#fbb61a"/>
<rect x="0" y="48.25" width="8.5" height="9.7" fill="#550f6d"/>
<rect x="8" y="48.25" width="8.5" height="9.7" fill="#65156e"/>
<rect x="16" y="48.25" width="8.5" height="9.7" fill="#741a6e"/>
<rect x="24" y="48.25" width="8.5" height="9.7" fill="#84206b"/>
<rect x="32" y="48.25" width="8.5" height="9.7" fill="#922568"/>
<rect x="40" y="48.25" width="8.5" height="9.7" fill="#a22b62"/>
<rect x="48" y="48.25" width="8.5" height="9.7" fill="#b0315b"/>
<rect x="56" y="48.25" width="8.5" height="9.7" fill="#bf3952"/>
<rect x="64" y="48.25" width="8.5" height="9.7" fill="#cb4149"/>
<rect x="72" y="48.25" width="8.5" height="9.7" fill="#d84c3e"/>
<rect x="80" y="48.25" width="8.5" height="9.7" fill="#e35933"/>
<rect x="88" y="48.25" width="8.5" height="9.7" fill="#eb6628"/>
<rect x="96" y="48.25" width="8.5" height="9.7" fill="#f3761b"/>
<rect x="104" y="48.25" width="8.5" height="9.7" fill="#f8850f"/>
<rect x="112" y="48.25" width="8.5" height="9.7" fill="#fb9706"/>
<rect x="120" y="48.25" width="8" height="9.7" fill="#fca80d"/>
<rect x="0" y="56.29" width="8.5" height="9.7" fill="#4c0c6b"/>
<rect x="8" y="56.29" width="8.5" height="9.7" fill="#5a116e"/>
<rect x="16" y="56.29" width="8.5" height="9.7" fill="#6a176e"/>
<rect x="24" y="56.29" width="8.5" height="9.7" fill="#781c6d"/>
<rect x="32" y="56.29" width="8.5" height="9.7" fill="#88226a"/>
<rect x="40" y="56.29" width="8.5" height="9.7" fill="#972766"/>
<rect x="48" y="56.29" width="8.5" height="9.7" fill="#a62d60"/>
<rect x="56" y="56.29" width="8.5" height="9.7" fill="#b43359"/>
<rect x="64" y="56.29" width="8.5" height="9.7" fill="#c33b4f"/>
<rect x="72" y="56.29" width="8.5" height="9.7" fill="#d04545"/>
<rect x="80" y="56.29" width="8.5" height="9.7" fill="#db503b"/>
<rect x="88" y="56.29" width="8.5" height="9.7" fill="#e65d2f"/>
<rect x="96" y="56.29" width="8.5" height="9.7" fill="#ee6a24"/>
<rect x="104" y="56.29" width="8.5" height="9.7" fill="#f57b17"/>
<rect x="112" y="56.29" width="8.5" height="9.7" fill="#f98b0b"/>
<rect x="120" y="56.29" width="8" height="9.7" fill="#fb9d07"/>
<rect x="0" y="64.34" width="8.5" height="9.7" fill="#400a67"/>
<rect x="8" y="64.34" width="8.5" height="9.7" fill="#510e6c"/>
<rect x="16" y="64.34" width="8.5" height="9.7" fill="#5f136e"/>
<rect x="24" y="64.34" width="8.5" height="9.7" fill="#6f196e"/>
<rect x="32" y="64.34" width="8.5" height="9.7" fill="#7d1e6d"/>
<rect x="40" y="64.34" width="8.5" height="9.7" fill="#8d2369"/>
<rect x="48" y="64.34" width="8.5" height="9.7" fill="#9b2964"/>
<rect x="56" y="64.34" width="8.5" height="9.7" fill="#ab2f5e"/>
<rect x="64" y="64.34" width="8.5" height="9.7" fill="#b93556"/>
<rect x="72" y="64.34" width="8.5" height="9.7" fill="#c73e4c"/>
<rect x="80" y="64.34" width="8.5" height="9.7" fill="#d44842"/>
<rect x="88" y="64.34" width="8.5" height="9.7" fill="#df5337"/>
<rect x="96" y="64.34" width="8.5" height="9.7" fill="#e9612b"/>
<rect x="104" y="64.34" width="8.5" height="9.7" fill="#f06f20"/>
<rect x="112" y="64.34" width="8.5" height="9.7" fill="#f68013"/>
<rect x="120" y="64.34" width="8" height="9.7" fill="#fa9008"/>
<rect x="0" y="72.38" width="8.5" height="9.7" fill="#360961"/>
<rect x="8" y="72.38" width="8.5" height="9.7" fill="#450a69"/>
<rect x="16" y="72.38" width="8.5" height="9.7" fill="#550f6d"/>
<rect x="24" y="72.38" width="8.5" height="9.7" fill="#64156e"/>
<rect x="32" y="72.38" width="8.5" height="9.7" fill="#741a6e"/>
<rect x="40" y="72.38" width="8.5" height="9.7" fill="#82206c"/>
<rect x="48" y="72.38" width="8.5" height="9.7" fill="#922568"/>
<rect x="56" y="72.38" width="8.5" height="9.7" fill="#a02a63"/>
<rect x="64" y="72.38" width="8.5" height="9.7" fill="#b0315b"/>
<rect x="72" y="72.38" width="8.5" height="9.7" fill="#bf3952"/>
<rect x="80" y="72.38" width="8.5" height="9.7" fill="#cb4149"/>
<rect x="88" y="72.38" width="8.5" height="9.7" fill="#d84c3e"/>
<rect x="96" y="72.38" width="8.5" height="9.7" fill="#e25734"/>
<rect x="104" y="72.38" width="8.5" height="9.7" fill="#eb6628"/>
<rect x="112" y="72.38" width="8.5" height="9.7" fill="#f2741c"/>
<rect x="120" y="72.38" width="8" height="9.7" fill="#f8850f"/>
<rect x="0" y="80.42" width="8.5" height="9.7" fill="#290b55"/>
<rect x="8" y="80.42" width="8.5" height="9.7" fill="#3b0964"/>
<rect x="16" y="80.42" width="8.5" height="9.7" fill="#4a0c6b"/>
<rect x="24" y="80.42" width="8.5" height="9.7" fill="#5a116e"/>
<rect x="32" y="80.42" width="8.5" height="9.7" fill="#69166e"/>
<rect x="40" y="80.42" width="8.5" height="9.7" fill="#781c6d"/>
<rect x="48" y="80.42" width="8.5" height="9.7" fill="#87216b"/>
<rect x="56" y="80.42" width="8.5" height="9.7" fill="#972766"/>
<rect x="64" y="80.42" width="8.5" height="9.7" fill="#a62d60"/>
<rect x="72" y="80.42" width="8.5" height="9.7" fill="#b43359"/>
<rect x="80" y="80.42" width="8.5" height="9.7" fill="#c33b4f"/>
<rect x="88" y="80.42" width="8.5" height="9.7" fill="#cf4446"/>
<rect x="96" y="80.42" width="8.5" height="9.7" fill="#db503b"/>
<rect x="104" y="80.42" width="8.5" height="9.7" fill="#e55c30"/>
<rect x="112" y="80.42" width="8.5" height="9.7" fill="#ee6a24"/>
<rect x="120" y="80.42" width="8" height="9.7" fill="#f47918"/>
<rect x="0" y="88.46" width="8.5" height="9.7" fill="#1f0c48"/>
<rect x="8" y="88.46" width="8.5" height="9.7" fill="#2f0a5b"/>
<rect x="16" y="88.46" width="8.5" height="9.7" fill="#400a67"/>
<rect x="24" y="88.46" width="8.5" height="9.7" fill="#4f0d6c"/>
<rect x="32" y="88.46" width="8.5" height="9.7" fill="#5f136e"/>
<rect x="40" y="88.46" width="8.5" height="9.7" fill="#6d186e"/>
<rect x="48" y="88.46" width="8.5" height="9.7" fill="#7d1e6d"/>
<rect x="56" y="88.46" width="8.5" height="9.7" fill="#8c2369"/>
<rect x="64" y="88.46" width="8.5" height="9.7" fill="#9b2964"/>
<rect x="72" y="88.46" width="8.5" height="9.7" fill="#ab2f5e"/>
<rect x="80" y="88.46" width="8.5" height="9.7" fill="#b93556"/>
<rect x="88" y="88.46" width="8.5" height="9.7" fill="#c73e4c"/>
<rect x="96" y="88.46" width="8.5" height="9.7" fill="#d34743"/>
<rect x="104" y="88.46" width="8.5" height="9.7" fill="#df5337"/>
<rect x="112" y="88.46" width="8.5" height="9.7" fill="#e8602d"/>
<rect x="120" y="88.46" width="8" height="9.7" fill="#f06f20"/>
<rect x="0" y="96.50" width="8.5" height="9.7" fill="#150b37"/>
<rect x="8" y="96.50" width="8.5" height="9.7" fill="#240c4f"/>
<rect x="16" y="96.50" width="8.5" height="9.7" fill="#340a5f"/>
<rect x="24" y="96.50" width="8.5" height="9.7" fill="#450a69"/>
<rect x="32" y="96.50" width="8.5" height="9.7" fill="#540f6d"/>
<rect x="40" y="96.50" width="8.5" height="9.7" fill="#64156e"/>
<rect x="48" y="96.50" width="8.5" height="9.7" fill="#721a6e"/>
<rect x="56" y="96.50" width="8.5" height="9.7" fill="#82206c"/>
<rect x="64" y="96.50" width="8.5" height="9.7" fill="#922568"/>
<rect x="72" y="96.50" width="8.5" height="9.7" fill="#a02a63"/>
<rect x="80" y="96.50" width="8.5" height="9.7" fill="#b0315b"/>
<rect x="88" y="96.50" width="8.5" height="9.7" fill="#bd3853"/>
<rect x="96" y="96.50" width="8.5" height="9.7" fill="#cb4149"/>
<rect x="104" y="96.50" width="8.5" height="9.7" fill="#d74b3f"/>
<rect x="112" y="96.50" width="8.5" height="9.7" fill="#e25734"/>
<rect x="120" y="96.50" width="8" height="9.7" fill="#eb6429"/>
<rect x="0" y="104.55" width="8.5" height="9.7" fill="#0d0829"/>
<rect x="8" y="104.55" width="8.5" height="9.7" fill="#190c3e"/>
<rect x="16" y="104.55" width="8.5" height="9.7" fill="#290b55"/>
<rect x="24" y="104.55" width="8.5" height="9.7" fill="#390963"/>
<rect x="32" y="104.55" width="8.5" height="9.7" fill="#4a0c6b"/>
<rect x="40" y="104.55" width="8.5" height="9.7" fill="#59106e"/>
<rect x="48" y="104.55" width="8.5" height="9.7" fill="#69166e"/>
<rect x="56" y="104.55" width="8.5" height="9.7" fill="#771c6d"/>
<rect x="64" y="104.55" width="8.5" height="9.7" fill="#87216b"/>
<rect x="72" y="104.55" width="8.5" height="9.7" fill="#972766"/>
<rect x="80" y="104.55" width="8.5" height="9.7" fill="#a52c60"/>
<rect x="88" y="104.55" width="8.5" height="9.7" fill="#b43359"/>
<rect x="96" y="104.55" width="8.5" height="9.7" fill="#c13a50"/>
<rect x="104" y="104.55" width="8.5" height="9.7" fill="#cf4446"/>
<rect x="112" y="104.55" width="8.5" height="9.7" fill="#da4e3c"/>
<rect x="120" y="104.55" width="8" height="9.7" fill="#e55c30"/>
<rect x="0" y="112.59" width="8.5" height="9.7" fill="#060419"/>
<rect x="8" y="112.59" width="8.5" height="9.7" fill="#110a30"/>
<rect x="16" y="112.59" width="8.5" height="9.7" fill="#1e0c45"/>
<rect x="24" y="112.59" width="8.5" height="9.7" fill="#2f0a5b"/>
<rect x="32" y="112.59" width="8.5" height="9.7" fill="#3e0966"/>
<rect x="40" y="112.59" width="8.5" height="9.7" fill="#4f0d6c"/>
<rect x="48" y="112.59" width="8.5" height="9.7" fill="#5d126e"/>
<rect x="56" y="112.59" width="8.5" height="9.7" fill="#6d186e"/>
<rect x="64" y="112.59" width="8.5" height="9.7" fill="#7d1e6d"/>
<rect x="72" y="112.59" width="8.5" height="9.7" fill="#8c2369"/>
<rect x="80" y="112.59" width="8.5" height="9.7" fill="#9b2964"/>
<rect x="88" y="112.59" width="8.5" height="9.7" fill="#a92e5e"/>
<rect x="96" y="112.59" width="8.5" height="9.7" fill="#b93556"/>
<rect x="104" y="112.59" width="8.5" height="9.7" fill="#c63d4d"/>
<rect x="112" y="112.59" width="8.5" height="9.7" fill="#d34743"/>
<rect x="120" y="112.59" width="8" height="9.7" fill="#de5238"/>
<rect x="0" y="120.63" width="8.5" height="8.04" fill="#02020c"/>
<rect x="8" y="120.63" width="8.5" height="8.04" fill="#09061f"/>
<rect x="16" y="120.63" width="8.5" height="8.04" fill="#150b37"/>
<rect x="24" y="120.63" width="8.5" height="8.04" fill="#230c4c"/>
<rect x="32" y="120.63" width="8.5" height="8.04" fill="#340a5f"/>
<rect x="40" y="120.63" width="8.5" height="8.04" fill="#440a68"/>
<rect x="48" y="120.63" width="8.5" height="8.04" fill="#540f6d"/>
<rect x="56" y="120.63" width="8.5" height="8.04" fill="#64156e"/>
<rect x="64" y="120.63" width="8.5" height="8.04" fill="#721a6e"/>
<rect x="72" y="120.63" width="8.5" height="8.04" fill="#82206c"/>
<rect x="80" y="120.63" width="8.5" height="8.04" fill="#902568"/>
<rect x="88" y="120.63" width="8.5" height="8.04" fill="#a02a63"/>
<rect x="96" y="120.63" width="8.5" height="8.04" fill="#ae305c"/>
<rect x="104" y="120.63" width="8.5" height="8.04" fill="#bd3853"/>
<rect x="112" y="120.63" width="8.5" height="8.04" fill="#ca404a"/>
<rect x="120" y="120.63" width="8" height="8.04" fill="#d74b3f"/>
</g>
<text x="619.4" y="245.1" font-size="24.5" font-family="'DejaVu Sans', 'Liberation Sans', sans-serif" text-anchor="middle" textLength="25.6" lengthAdjust="spacingAndGlyphs" font-weight="bold" fill="#fff">M</text>
<g transform="translate(607,371)">
<rect x="0" y="0.00" width="8.5" height="9.7" fill="#e05536"/>
<rect x="8" y="0.00" width="8.5" height="9.7" fill="#de5238"/>
<rect x="16" y="0.00" width="8.5" height="9.7" fill="#dd513a"/>
<rect x="24" y="0.00" width="8.5" height="9.7" fill="#db503b"/>
<rect x="32" y="0.00" width="8.5" height="9.7" fill="#d94d3d"/>
<rect x="40" y="0.00" width="8.5" height="9.7" fill="#d84c3e"/>
<rect x="48" y="0.00" width="8.5" height="9.7" fill="#d54a41"/>
<rect x="56" y="0.00" width="8.5" height="9.7" fill="#d44842"/>
<rect x="64" y="0.00" width="8.5" height="9.7" fill="#d34743"/>
<rect x="72" y="0.00" width="8.5" height="9.7" fill="#d04545"/>
<rect x="80" y="0.00" width="8.5" height="9.7" fill="#cf4446"/>
<rect x="88" y="0.00" width="8.5" height="9.7" fill="#ce4347"/>
<rect x="96" y="0.00" width="8.5" height="9.7" fill="#cb4149"/>
<rect x="104" y="0.00" width="8.5" height="9.7" fill="#ca404a"/>
<rect x="112" y="0.00" width="8.5" height="9.7" fill="#c83f4b"/>
<rect x="120" y="0.00" width="8" height="9.7" fill="#c63d4d"/>
<rect x="0" y="8.04" width="8.5" height="9.7" fill="#dd513a"/>
<rect x="8" y="8.04" width="8.5" height="9.7" fill="#db503b"/>
<rect x="16" y="8.04" width="8.5" height="9.7" fill="#d94d3d"/>
<rect x="24" y="8.04" width="8.5" height="9.7" fill="#d84c3e"/>
<rect x="32" y="8.04" width="8.5" height="9.7" fill="#d74b3f"/>
<rect x="40" y="8.04" width="8.5" height="9.7" fill="#d44842"/>
<rect x="48" y="8.04" width="8.5" height="9.7" fill="#d34743"/>
<rect x="56" y="8.04" width="8.5" height="9.7" fill="#d24644"/>
<rect x="64" y="8.04" width="8.5" height="9.7" fill="#cf4446"/>
<rect x="72" y="8.04" width="8.5" height="9.7" fill="#ce4347"/>
<rect x="80" y="8.04" width="8.5" height="9.7" fill="#cb4149"/>
<rect x="88" y="8.04" width="8.5" height="9.7" fill="#ca404a"/>
<rect x="96" y="8.04" width="8.5" height="9.7" fill="#c83f4b"/>
<rect x="104" y="8.04" width="8.5" height="9.7" fill="#c63d4d"/>
<rect x="112" y="8.04" width="8.5" height="9.7" fill="#c43c4e"/>
<rect x="120" y="8.04" width="8" height="9.7" fill="#c33b4f"/>
<rect x="0" y="16.08" width="8.5" height="9.7" fill="#da4e3c"/>
<rect x="8" y="16.08" width="8.5" height="9.7" fill="#d84c3e"/>
<rect x="16" y="16.08" width="8.5" height="9.7" fill="#d74b3f"/>
<rect x="24" y="16.08" width="8.5" height="9.7" fill="#d44842"/>
<rect x="32" y="16.08" width="8.5" height="9.7" fill="#d34743"/>
<rect x="40" y="16.08" width="8.5" height="9.7" fill="#d24644"/>
<rect x="48" y="16.08" width="8.5" height="9.7" fill="#cf4446"/>
<rect x="56" y="16.08" width="8.5" height="9.7" fill="#ce4347"/>
<rect x="64" y="16.08" width="8.5" height="9.7" fill="#cc4248"/>
<rect x="72" y="16.08" width="8.5" height="9.7" fill="#ca404a"/>
<rect x="80" y="16.08" width="8.5" height="9.7" fill="#c83f4b"/>
<rect x="88" y="16.08" width="8.5" height="9.7" fill="#c73e4c"/>
<rect x="96" y="16.08" width="8.5" height="9.7" fill="#c43c4e"/>
<rect x="104" y="16.08" width="8.5" height="9.7" fill="#c33b4f"/>
<rect x="112" y="16.08" width="8.5" height="9.7" fill="#c03a51"/>
<rect x="120" y="16.08" width="8" height="9.7" fill="#bf3952"/>
<rect x="0" y="24.13" width="8.5" height="9.7" fill="#d74b3f"/>
<rect x="8" y="24.13" width="8.5" height="9.7" fill="#d54a41"/>
<rect x="16" y="24.13" width="8.5" height="9.7" fill="#d34743"/>
<rect x="24" y="24.13" width="8.5" height="9.7" fill="#d24644"/>
<rect x="32" y="24.13" width="8.5" height="9.7" fill="#d04545"/>
<rect x="40" y="24.13" width="8.5" height="9.7" fill="#ce4347"/>
<rect x="48" y="24.13" width="8.5" height="9.7" fill="#cc4248"/>
<rect x="56" y="24.13" width="8.5" height="9.7" fill="#ca404a"/>
<rect x="64" y="24.13" width="8.5" height="9.7" fill="#c83f4b"/>
<rect x="72" y="24.13" width="8.5" height="9.7" fill="#c73e4c"/>
<rect x="80" y="24.13" width="8.5" height="9.7" fill="#c43c4e"/>
<rect x="88" y="24.13" width="8.5" height="9.7" fill="#c33b4f"/>
<rect x="96" y="24.13" width="8.5" height="9.7" fill="#c13a50"/>
<rect x="104" y="24.13" width="8.5" height="9.7" fill="#bf3952"/>
<rect x="112" y="24.13" width="8.5" height="9.7" fill="#bd3853"/>
<rect x="120" y="24.13" width="8" height="9.7" fill="#bc3754"/>
<rect x="0" y="32.17" width="8.5" height="9.7" fill="#d34743"/>
<rect x="8" y="32.17" width="8.5" height="9.7" fill="#d24644"/>
<rect x="16" y="32.17" width="8.5" height="9.7" fill="#d04545"/>
<rect x="24" y="32.17" width="8.5" height="9.7" fill="#ce4347"/>
<rect x="32" y="32.17" width="8.5" height="9.7" fill="#cc4248"/>
<rect x="40" y="32.17" width="8.5" height="9.7" fill="#cb4149"/>
<rect x="48" y="32.17" width="8.5" height="9.7" fill="#c83f4b"/>
<rect x="56" y="32.17" width="8.5" height="9.7" fill="#c73e4c"/>
<rect x="64" y="32.17" width="8.5" height="9.7" fill="#c43c4e"/>
<rect x="72" y="32.17" width="8.5" height="9.7" fill="#c33b4f"/>
<rect x="80" y="32.17" width="8.5" height="9.7" fill="#c13a50"/>
<rect x="88" y="32.17" width="8.5" height="9.7" fill="#bf3952"/>
<rect x="96" y="32.17" width="8.5" height="9.7" fill="#bd3853"/>
<rect x="104" y="32.17" width="8.5" height="9.7" fill="#bc3754"/>
<rect x="112" y="32.17" width="8.5" height="9.7" fill="#b93556"/>
<rect x="120" y="32.17" width="8" height="9.7" fill="#b73557"/>
<rect x="0" y="40.21" width="8.5" height="9.7" fill="#d04545"/>
<rect x="8" y="40.21" width="8.5" height="9.7" fill="#ce4347"/>
<rect x="16" y="40.21" width="8.5" height="9.7" fill="#cc4248"/>
<rect x="24" y="40.21" width="8.5" height="9.7" fill="#cb4149"/>
<rect x="32" y="40.21" width="8.5" height="9.7" fill="#c83f4b"/>
<rect x="40" y="40.21" width="8.5" height="9.7" fill="#c73e4c"/>
<rect x="48" y="40.21" width="8.5" height="9.7" fill="#c63d4d"/>
<rect x="56" y="40.21" width="8.5" height="9.7" fill="#c33b4f"/>
<rect x="64" y="40.21" width="8.5" height="9.7" fill="#c13a50"/>
<rect x="72" y="40.21" width="8.5" height="9.7" fill="#c03a51"/>
<rect x="80" y="40.21" width="8.5" height="9.7" fill="#bd3853"/>
<rect x="88" y="40.21" width="8.5" height="9.7" fill="#bc3754"/>
<rect x="96" y="40.21" width="8.5" height="9.7" fill="#b93556"/>
<rect x="104" y="40.21" width="8.5" height="9.7" fill="#b73557"/>
<rect x="112" y="40.21" width="8.5" height="9.7" fill="#b63458"/>
<rect x="120" y="40.21" width="8" height="9.7" fill="#b3325a"/>
<rect x="0" y="48.25" width="8.5" height="9.7" fill="#cc4248"/>
<rect x="8" y="48.25" width="8.5" height="9.7" fill="#cb4149"/>
<rect x="16" y="48.25" width="8.5" height="9.7" fill="#ca404a"/>
<rect x="24" y="48.25" width="8.5" height="9.7" fill="#c73e4c"/>
<rect x="32" y="48.25" width="8.5" height="9.7" fill="#c63d4d"/>
<rect x="40" y="48.25" width="8.5" height="9.7" fill="#c33b4f"/>
<rect x="48" y="48.25" width="8.5" height="9.7" fill="#c13a50"/>
<rect x="56" y="48.25" width="8.5" height="9.7" fill="#c03a51"/>
<rect x="64" y="48.25" width="8.5" height="9.7" fill="#bd3853"/>
<rect x="72" y="48.25" width="8.5" height="9.7" fill="#bc3754"/>
<rect x="80" y="48.25" width="8.5" height="9.7" fill="#ba3655"/>
<rect x="88" y="48.25" width="8.5" height="9.7" fill="#b73557"/>
<rect x="96" y="48.25" width="8.5" height="9.7" fill="#b63458"/>
<rect x="104" y="48.25" width="8.5" height="9.7" fill="#b43359"/>
<rect x="112" y="48.25" width="8.5" height="9.7" fill="#b1325a"/>
<rect x="120" y="48.25" width="8" height="9.7" fill="#b0315b"/>
<rect x="0" y="56.29" width="8.5" height="9.7" fill="#ca404a"/>
<rect x="8" y="56.29" width="8.5" height="9.7" fill="#c73e4c"/>
<rect x="16" y="56.29" width="8.5" height="9.7" fill="#c63d4d"/>
<rect x="24" y="56.29" width="8.5" height="9.7" fill="#c43c4e"/>
<rect x="32" y="56.29" width="8.5" height="9.7" fill="#c13a50"/>
<rect x="40" y="56.29" width="8.5" height="9.7" fill="#c03a51"/>
<rect x="48" y="56.29" width="8.5" height="9.7" fill="#bf3952"/>
<rect x="56" y="56.29" width="8.5" height="9.7" fill="#bc3754"/>
<rect x="64" y="56.29" width="8.5" height="9.7" fill="#ba3655"/>
<rect x="72" y="56.29" width="8.5" height="9.7" fill="#b73557"/>
<rect x="80" y="56.29" width="8.5" height="9.7" fill="#b63458"/>
<rect x="88" y="56.29" width="8.5" height="9.7" fill="#b43359"/>
<rect x="96" y="56.29" width="8.5" height="9.7" fill="#b1325a"/>
<rect x="104" y="56.29" width="8.5" height="9.7" fill="#b0315b"/>
<rect x="112" y="56.29" width="8.5" height="9.7" fill="#ae305c"/>
<rect x="120" y="56.29" width="8" height="9.7" fill="#ab2f5e"/>
<rect x="0" y="64.34" width="8.5" height="9.7" fill="#c63d4d"/>
<rect x="8" y="64.34" width="8.5" height="9.7" fill="#c43c4e"/>
<rect x="16" y="64.34" width="8.5" height="9.7" fill="#c13a50"/>
<rect x="24" y="64.34" width="8.5" height="9.7" fill="#c03a51"/>
<rect x="32" y="64.34" width="8.5" height="9.7" fill="#bf3952"/>
<rect x="40" y="64.34" width="8.5" height="9.7" fill="#bc3754"/>
<rect x="48" y="64.34" width="8.5" height="9.7" fill="#ba3655"/>
<rect x="56" y="64.34" width="8.5" height="9.7" fill="#b93556"/>
<rect x="64" y="64.34" width="8.5" height="9.7" fill="#b63458"/>
<rect x="72" y="64.34" width="8.5" height="9.7" fill="#b43359"/>
<rect x="80" y="64.34" width="8.5" height="9.7" fill="#b3325a"/>
<rect x="88" y="64.34" width="8.5" height="9.7" fill="#b0315b"/>
<rect x="96" y="64.34" width="8.5" height="9.7" fill="#ae305c"/>
<rect x="104" y="64.34" width="8.5" height="9.7" fill="#ab2f5e"/>
<rect x="112" y="64.34" width="8.5" height="9.7" fill="#a92e5e"/>
<rect x="120" y="64.34" width="8" height="9.7" fill="#a82e5f"/>
<rect x="0" y="72.38" width="8.5" height="9.7" fill="#c33b4f"/>
<rect x="8" y="72.38" width="8.5" height="9.7" fill="#c03a51"/>
<rect x="16" y="72.38" width="8.5" height="9.7" fill="#bf3952"/>
<rect x="24" y="72.38" width="8.5" height="9.7" fill="#bd3853"/>
<rect x="32" y="72.38" width="8.5" height="9.7" fill="#ba3655"/>
<rect x="40" y="72.38" width="8.5" height="9.7" fill="#b93556"/>
<rect x="48" y="72.38" width="8.5" height="9.7" fill="#b63458"/>
<rect x="56" y="72.38" width="8.5" height="9.7" fill="#b43359"/>
<rect x="64" y="72.38" width="8.5" height="9.7" fill="#b3325a"/>
<rect x="72" y="72.38" width="8.5" height="9.7" fill="#b0315b"/>
<rect x="80" y="72.38" width="8.5" height="9.7" fill="#ae305c"/>
<rect x="88" y="72.38" width="8.5" height="9.7" fill="#ad305d"/>
<rect x="96" y="72.38" width="8.5" height="9.7" fill="#a92e5e"/>
<rect x="104" y="72.38" width="8.5" height="9.7" fill="#a82e5f"/>
<rect x="112" y="72.38" width="8.5" height="9.7" fill="#a62d60"/>
<rect x="120" y="72.38" width="8" height="9.7" fill="#a32c61"/>
<rect x="0" y="80.42" width="8.5" height="9.7" fill="#bf3952"/>
<rect x="8" y="80.42" width="8.5" height="9.7" fill="#bd3853"/>
<rect x="16" y="80.42" width="8.5" height="9.7" fill="#ba3655"/>
<rect x="24" y="80.42" width="8.5" height="9.7" fill="#b93556"/>
<rect x="32" y="80.42" width="8.5" height="9.7" fill="#b73557"/>
<rect x="40" y="80.42" width="8.5" height="9.7" fill="#b43359"/>
<rect x="48" y="80.42" width="8.5" height="9.7" fill="#b3325a"/>
<rect x="56" y="80.42" width="8.5" height="9.7" fill="#b1325a"/>
<rect x="64" y="80.42" width="8.5" height="9.7" fill="#ae305c"/>
<rect x="72" y="80.42" width="8.5" height="9.7" fill="#ad305d"/>
<rect x="80" y="80.42" width="8.5" height="9.7" fill="#a92e5e"/>
<rect x="88" y="80.42" width="8.5" height="9.7" fill="#a82e5f"/>
<rect x="96" y="80.42" width="8.5" height="9.7" fill="#a62d60"/>
<rect x="104" y="80.42" width="8.5" height="9.7" fill="#a32c61"/>
<rect x="112" y="80.42" width="8.5" height="9.7" fill="#a22b62"/>
<rect x="120" y="80.42" width="8" height="9.7" fill="#a02a63"/>
<rect x="0" y="88.46" width="8.5" height="9.7" fill="#bc3754"/>
<rect x="8" y="88.46" width="8.5" height="9.7" fill="#b93556"/>
<rect x="16" y="88.46" width="8.5" height="9.7" fill="#b73557"/>
<rect x="24" y="88.46" width="8.5" height="9.7" fill="#b43359"/>
<rect x="32" y="88.46" width="8.5" height="9.7" fill="#b3325a"/>
<rect x="40" y="88.46" width="8.5" height="9.7" fill="#b1325a"/>
<rect x="48" y="88.46" width="8.5" height="9.7" fill="#ae305c"/>
<rect x="56" y="88.46" width="8.5" height="9.7" fill="#ad305d"/>
<rect x="64" y="88.46" width="8.5" height="9.7" fill="#ab2f5e"/>
<rect x="72" y="88.46" width="8.5" height="9.7" fill="#a82e5f"/>
<rect x="80" y="88.46" width="8.5" height="9.7" fill="#a62d60"/>
<rect x="88" y="88.46" width="8.5" height="9.7" fill="#a32c61"/>
<rect x="96" y="88.46" width="8.5" height="9.7" fill="#a22b62"/>
<rect x="104" y="88.46" width="8.5" height="9.7" fill="#a02a63"/>
<rect x="112" y="88.46" width="8.5" height="9.7" fill="#9d2964"/>
<rect x="120" y="88.46" width="8" height="9.7" fill="#9b2964"/>
<rect x="0" y="96.50" width="8.5" height="9.7" fill="#b73557"/>
<rect x="8" y="96.50" width="8.5" height="9.7" fill="#b63458"/>
<rect x="16" y="96.50" width="8.5" height="9.7" fill="#b3325a"/>
<rect x="24" y="96.50" width="8.5" height="9.7" fill="#b1325a"/>
<rect x="32" y="96.50" width="8.5" height="9.7" fill="#ae305c"/>
<rect x="40" y="96.50" width="8.5" height="9.7" fill="#ad305d"/>
<rect x="48" y="96.50" width="8.5" height="9.7" fill="#ab2f5e"/>
<rect x="56" y="96.50" width="8.5" height="9.7" fill="#a82e5f"/>
<rect x="64" y="96.50" width="8.5" height="9.7" fill="#a62d60"/>
<rect x="72" y="96.50" width="8.5" height="9.7" fill="#a52c60"/>
<rect x="80" y="96.50" width="8.5" height="9.7" fill="#a22b62"/>
<rect x="88" y="96.50" width="8.5" height="9.7" fill="#a02a63"/>
<rect x="96" y="96.50" width="8.5" height="9.7" fill="#9f2a63"/>
<rect x="104" y="96.50" width="8.5" height="9.7" fill="#9b2964"/>
<rect x="112" y="96.50" width="8.5" height="9.7" fill="#9a2865"/>
<rect x="120" y="96.50" width="8" height="9.7" fill="#972766"/>
<rect x="0" y="104.55" width="8.5" height="9.7" fill="#b3325a"/>
<rect x="8" y="104.55" width="8.5" height="9.7" fill="#b1325a"/>
<rect x="16" y="104.55" width="8.5" height="9.7" fill="#b0315b"/>
<rect x="24" y="104.55" width="8.5" height="9.7" fill="#ad305d"/>
<rect x="32" y="104.55" width="8.5" height="9.7" fill="#ab2f5e"/>
<rect x="40" y="104.55" width="8.5" height="9.7" fill="#a92e5e"/>
<rect x="48" y="104.55" width="8.5" height="9.7" fill="#a62d60"/>
<rect x="56" y="104.55" width="8.5" height="9.7" fill="#a52c60"/>
<rect x="64" y="104.55" width="8.5" height="9.7" fill="#a22b62"/>
<rect x="72" y="104.55" width="8.5" height="9.7" fill="#a02a63"/>
<rect x="80" y="104.55" width="8.5" height="9.7" fill="#9f2a63"/>
<rect x="88" y="104.55" width="8.5" height="9.7" fill="#9b2964"/>
<rect x="96" y="104.55" width="8.5" height="9.7" fill="#9a2865"/>
<rect x="104" y="104.55" width="8.5" height="9.7" fill="#982766"/>
<rect x="112" y="104.55" width="8.5" height="9.7" fill="#952667"/>
<rect x="120" y="104.55" width="8" height="9.7" fill="#932667"/>
<rect x="0" y="112.59" width="8.5" height="9.7" fill="#b0315b"/>
<rect x="8" y="112.59" width="8.5" height="9.7" fill="#ad305d"/>
<rect x="16" y="112.59" width="8.5" height="9.7" fill="#ab2f5e"/>
<rect x="24" y="112.59" width="8.5" height="9.7" fill="#a92e5e"/>
<rect x="32" y="112.59" width="8.5" height="9.7" fill="#a62d60"/>
<rect x="40" y="112.59" width="8.5" height="9.7" fill="#a52c60"/>
<rect x="48" y="112.59" width="8.5" height="9.7" fill="#a32c61"/>
<rect x="56" y="112.59" width="8.5" height="9.7" fill="#a02a63"/>
<rect x="64" y="112.59" width="8.5" height="9.7" fill="#9f2a63"/>
<rect x="72" y="112.59" width="8.5" height="9.7" fill="#9d2964"/>
<rect x="80" y="112.59" width="8.5" height="9.7" fill="#9a2865"/>
<rect x="88" y="112.59" width="8.5" height="9.7" fill="#982766"/>
<rect x="96" y="112.59" width="8.5" height="9.7" fill="#952667"/>
<rect x="104" y="112.59" width="8.5" height="9.7" fill="#932667"/>
<rect x="112" y="112.59" width="8.5" height="9.7" fill="#922568"/>
<rect x="120" y="112.59" width="8" height="9.7" fill="#8f2469"/>
<rect x="0" y="120.63" width="8.5" height="8.04" fill="#ab2f5e"/>
<rect x="8" y="120.63" width="8.5" height="8.04" fill="#a92e5e"/>
<rect x="16" y="120.63" width="8.5" height="8.04" fill="#a82e5f"/>
<rect x="24" y="120.63" width="8.5" height="8.04" fill="#a52c60"/>
<rect x="32" y="120.63" width="8.5" height="8.04" fill="#a32c61"/>
<rect x="40" y="120.63" width="8.5" height="8.04" fill="#a02a63"/>
<rect x="48" y="120.63" width="8.5" height="8.04" fill="#9f2a63"/>
<rect x="56" y="120.63" width="8.5" height="8.04" fill="#9d2964"/>
<rect x="64" y="120.63" width="8.5" height="8.04" fill="#9a2865"/>
<rect x="72" y="120.63" width="8.5" height="8.04" fill="#982766"/>
<rect x="80" y="120.63" width="8.5" height="8.04" fill="#972766"/>
<rect x="88" y="120.63" width="8.5" height="8.04" fill="#932667"/>
<rect x="96" y="120.63" width="8.5" height="8.04" fill="#922568"/>
<rect x="104" y="120.63" width="8.5" height="8.04" fill="#902568"/>
<rect x="112" y="120.63" width="8.5" height="8.04" fill="#8d2369"/>
<rect x="120" y="120.63" width="8" height="8.04" fill="#8c2369"/>
</g>
<text x="619.4" y="395.1" font-size="24.5" font-family="'DejaVu Sans', 'Liberation Sans', sans-serif" text-anchor="middle" textLength="19.8" lengthAdjust="spacingAndGlyphs" font-weight="bold" fill="#fff">R</text>
<g transform="translate(1473,71.85)">
<rect x="0" y="0.00" width="8.5" height="9.7" fill="#bf3952"/>
<rect x="8" y="0.00" width="8.5" height="9.7" fill="#e05536"/>
<rect x="16" y="0.00" width="8.5" height="9.7" fill="#ee6a24"/>
<rect x="24" y="0.00" width="8.5" height="9.7" fill="#f57d15"/>
<rect x="32" y="0.00" width="8.5" height="9.7" fill="#f98b0b"/>
<rect x="40" y="0.00" width="8.5" height="9.7" fill="#fb9606"/>
<rect x="48" y="0.00" width="8.5" height="9.7" fill="#fb9906"/>
<rect x="56" y="0.00" width="8.5" height="9.7" fill="#fb9706"/>
<rect x="64" y="0.00" width="8.5" height="9.7" fill="#fa9207"/>
<rect x="72" y="0.00" width="8.5" height="9.7" fill="#f8850f"/>
<rect x="80" y="0.00" width="8.5" height="9.7" fill="#f3761b"/>
<rect x="88" y="0.00" width="8.5" height="9.7" fill="#e9612b"/>
<rect x="96" y="0.00" width="8.5" height="9.7" fill="#d84c3e"/>
<rect x="104" y="0.00" width="8.5" height="9.7" fill="#bf3952"/>
<rect x="112" y="0.00" width="8.5" height="9.7" fill="#922568"/>
<rect x="120" y="0.00" width="8" height="9.7" fill="#4f0d6c"/>
<rect x="0" y="8.04" width="8.5" height="9.7" fill="#e05536"/>
<rect x="8" y="8.04" width="8.5" height="9.7" fill="#f57d15"/>
<rect x="16" y="8.04" width="8.5" height="9.7" fill="#fb9606"/>
<rect x="24" y="8.04" width="8.5" height="9.7" fill="#fcaa0f"/>
<rect x="32" y="8.04" width="8.5" height="9.7" fill="#fbbc21"/>
<rect x="40" y="8.04" width="8.5" height="9.7" fill="#fac62d"/>
<rect x="48" y="8.04" width="8.5" height="9.7" fill="#f9c932"/>
<rect x="56" y="8.04" width="8.5" height="9.7" fill="#f9c932"/>
<rect x="64" y="8.04" width="8.5" height="9.7" fill="#fac42a"/>
<rect x="72" y="8.04" width="8.5" height="9.7" fill="#fbb61a"/>
<rect x="80" y="8.04" width="8.5" height="9.7" fill="#fca309"/>
<rect x="88" y="8.04" width="8.5" height="9.7" fill="#f98c0a"/>
<rect x="96" y="8.04" width="8.5" height="9.7" fill="#f1711f"/>
<rect x="104" y="8.04" width="8.5" height="9.7" fill="#e05536"/>
<rect x="112" y="8.04" width="8.5" height="9.7" fill="#bc3754"/>
<rect x="120" y="8.04" width="8" height="9.7" fill="#7a1d6d"/>
<rect x="0" y="16.08" width="8.5" height="9.7" fill="#ec6726"/>
<rect x="8" y="16.08" width="8.5" height="9.7" fill="#fa9207"/>
<rect x="16" y="16.08" width="8.5" height="9.7" fill="#fcac11"/>
<rect x="24" y="16.08" width="8.5" height="9.7" fill="#fac42a"/>
<rect x="32" y="16.08" width="8.5" height="9.7" fill="#f7d340"/>
<rect x="40" y="16.08" width="8.5" height="9.7" fill="#f4dd4f"/>
<rect x="48" y="16.08" width="8.5" height="9.7" fill="#f4e156"/>
<rect x="56" y="16.08" width="8.5" height="9.7" fill="#f4e156"/>
<rect x="64" y="16.08" width="8.5" height="9.7" fill="#f5d949"/>
<rect x="72" y="16.08" width="8.5" height="9.7" fill="#f8cd37"/>
<rect x="80" y="16.08" width="8.5" height="9.7" fill="#fbbc21"/>
<rect x="88" y="16.08" width="8.5" height="9.7" fill="#fca309"/>
<rect x="96" y="16.08" width="8.5" height="9.7" fill="#f8870e"/>
<rect x="104" y="16.08" width="8.5" height="9.7" fill="#ec6726"/>
<rect x="112" y="16.08" width="8.5" height="9.7" fill="#ce4347"/>
<rect x="120" y="16.08" width="8" height="9.7" fill="#8f2469"/>
<rect x="0" y="24.13" width="8.5" height="9.7" fill="#f3761b"/>
<rect x="8" y="24.13" width="8.5" height="9.7" fill="#fca309"/>
<rect x="16" y="24.13" width="8.5" height="9.7" fill="#fac026"/>
<rect x="24" y="24.13" width="8.5" height="9.7" fill="#f6d543"/>
<rect x="32" y="24.13" width="8.5" height="9.7" fill="#f3e55d"/>
<rect x="40" y="24.13" width="8.5" height="9.7" fill="#f1ed71"/>
<rect x="48" y="24.13" width="8.5" height="9.7" fill="#f1f179"/>
<rect x="56" y="24.13" width="8.5" height="9.7" fill="#f1f179"/>
<rect x="64" y="24.13" width="8.5" height="9.7" fill="#f2ea69"/>
<rect x="72" y="24.13" width="8.5" height="9.7" fill="#f4df53"/>
<rect x="80" y="24.13" width="8.5" height="9.7" fill="#f9cb35"/>
<rect x="88" y="24.13" width="8.5" height="9.7" fill="#fcb418"/>
<rect x="96" y="24.13" width="8.5" height="9.7" fill="#fb9706"/>
<rect x="104" y="24.13" width="8.5" height="9.7" fill="#f3761b"/>
<rect x="112" y="24.13" width="8.5" height="9.7" fill="#da4e3c"/>
<rect x="120" y="24.13" width="8" height="9.7" fill="#a02a63"/>
<rect x="0" y="32.17" width="8.5" height="9.7" fill="#f68013"/>
<rect x="8" y="32.17" width="8.5" height="9.7" fill="#fcae12"/>
<rect x="16" y="32.17" width="8.5" height="9.7" fill="#f9cb35"/>
<rect x="24" y="32.17" width="8.5" height="9.7" fill="#f4e156"/>
<rect x="32" y="32.17" width="8.5" height="9.7" fill="#f1ef75"/>
<rect x="40" y="32.17" width="8.5" height="9.7" fill="#f4f88e"/>
<rect x="48" y="32.17" width="8.5" height="9.7" fill="#f6fa96"/>
<rect x="56" y="32.17" width="8.5" height="9.7" fill="#f5f992"/>
<rect x="64" y="32.17" width="8.5" height="9.7" fill="#f3f586"/>
<rect x="72" y="32.17" width="8.5" height="9.7" fill="#f2ea69"/>
<rect x="80" y="32.17" width="8.5" height="9.7" fill="#f5d949"/>
<rect x="88" y="32.17" width="8.5" height="9.7" fill="#fac228"/>
<rect x="96" y="32.17" width="8.5" height="9.7" fill="#fca309"/>
<rect x="104" y="32.17" width="8.5" height="9.7" fill="#f78212"/>
<rect x="112" y="32.17" width="8.5" height="9.7" fill="#e25734"/>
<rect x="120" y="32.17" width="8" height="9.7" fill="#a92e5e"/>
<rect x="0" y="40.21" width="8.5" height="9.7" fill="#f8870e"/>
<rect x="8" y="40.21" width="8.5" height="9.7" fill="#fbb61a"/>
<rect x="16" y="40.21" width="8.5" height="9.7" fill="#f7d13d"/>
<rect x="24" y="40.21" width="8.5" height="9.7" fill="#f2e661"/>
<rect x="32" y="40.21" width="8.5" height="9.7" fill="#f2f482"/>
<rect x="40" y="40.21" width="8.5" height="9.7" fill="#f8fb9a"/>
<rect x="48" y="40.21" width="8.5" height="9.7" fill="#fcffa4"/>
<rect x="56" y="40.21" width="8.5" height="9.7" fill="#fafda1"/>
<rect x="64" y="40.21" width="8.5" height="9.7" fill="#f5f992"/>
<rect x="72" y="40.21" width="8.5" height="9.7" fill="#f1ef75"/>
<rect x="80" y="40.21" width="8.5" height="9.7" fill="#f4df53"/>
<rect x="88" y="40.21" width="8.5" height="9.7" fill="#f9c72f"/>
<rect x="96" y="40.21" width="8.5" height="9.7" fill="#fca80d"/>
<rect x="104" y="40.21" width="8.5" height="9.7" fill="#f8870e"/>
<rect x="112" y="40.21" width="8.5" height="9.7" fill="#e55c30"/>
<rect x="120" y="40.21" width="8" height="9.7" fill="#b0315b"/>
<rect x="0" y="48.25" width="8.5" height="9.7" fill="#f98b0b"/>
<rect x="8" y="48.25" width="8.5" height="9.7" fill="#fbba1f"/>
<rect x="16" y="48.25" width="8.5" height="9.7" fill="#f7d340"/>
<rect x="24" y="48.25" width="8.5" height="9.7" fill="#f2e865"/>
<rect x="32" y="48.25" width="8.5" height="9.7" fill="#f3f586"/>
<rect x="40" y="48.25" width="8.5" height="9.7" fill="#f9fc9d"/>
<rect x="48" y="48.25" width="8.5" height="9.7" fill="#fcffa4"/>
<rect x="56" y="48.25" width="8.5" height="9.7" fill="#fcffa4"/>
<rect x="64" y="48.25" width="8.5" height="9.7" fill="#f5f992"/>
<rect x="72" y="48.25" width="8.5" height="9.7" fill="#f1f179"/>
<rect x="80" y="48.25" width="8.5" height="9.7" fill="#f4df53"/>
<rect x="88" y="48.25" width="8.5" height="9.7" fill="#f9c72f"/>
<rect x="96" y="48.25" width="8.5" height="9.7" fill="#fcaa0f"/>
<rect x="104" y="48.25" width="8.5" height="9.7" fill="#f8870e"/>
<rect x="112" y="48.25" width="8.5" height="9.7" fill="#e55c30"/>
<rect x="120" y="48.25" width="8" height="9.7" fill="#b0315b"/>
<rect x="0" y="56.29" width="8.5" height="9.7" fill="#f98e09"/>
<rect x="8" y="56.29" width="8.5" height="9.7" fill="#fbbc21"/>
<rect x="16" y="56.29" width="8.5" height="9.7" fill="#f6d746"/>
<rect x="24" y="56.29" width="8.5" height="9.7" fill="#f2ea69"/>
<rect x="32" y="56.29" width="8.5" height="9.7" fill="#f3f586"/>
<rect x="40" y="56.29" width="8.5" height="9.7" fill="#f8fb9a"/>
<rect x="48" y="56.29" width="8.5" height="9.7" fill="#fafda1"/>
<rect x="56" y="56.29" width="8.5" height="9.7" fill="#f9fc9d"/>
<rect x="64" y="56.29" width="8.5" height="9.7" fill="#f4f88e"/>
<rect x="72" y="56.29" width="8.5" height="9.7" fill="#f1ed71"/>
<rect x="80" y="56.29" width="8.5" height="9.7" fill="#f4dd4f"/>
<rect x="88" y="56.29" width="8.5" height="9.7" fill="#fac62d"/>
<rect x="96" y="56.29" width="8.5" height="9.7" fill="#fca60c"/>
<rect x="104" y="56.29" width="8.5" height="9.7" fill="#f8850f"/>
<rect x="112" y="56.29" width="8.5" height="9.7" fill="#e45a31"/>
<rect x="120" y="56.29" width="8" height="9.7" fill="#ad305d"/>
<rect x="0" y="64.34" width="8.5" height="9.7" fill="#fa9008"/>
<rect x="8" y="64.34" width="8.5" height="9.7" fill="#fbbc21"/>
<rect x="16" y="64.34" width="8.5" height="9.7" fill="#f6d543"/>
<rect x="24" y="64.34" width="8.5" height="9.7" fill="#f2e865"/>
<rect x="32" y="64.34" width="8.5" height="9.7" fill="#f2f27d"/>
<rect x="40" y="64.34" width="8.5" height="9.7" fill="#f4f88e"/>
<rect x="48" y="64.34" width="8.5" height="9.7" fill="#f5f992"/>
<rect x="56" y="64.34" width="8.5" height="9.7" fill="#f4f88e"/>
<rect x="64" y="64.34" width="8.5" height="9.7" fill="#f2f27d"/>
<rect x="72" y="64.34" width="8.5" height="9.7" fill="#f2e661"/>
<rect x="80" y="64.34" width="8.5" height="9.7" fill="#f6d543"/>
<rect x="88" y="64.34" width="8.5" height="9.7" fill="#fbbe23"/>
<rect x="96" y="64.34" width="8.5" height="9.7" fill="#fca108"/>
<rect x="104" y="64.34" width="8.5" height="9.7" fill="#f67e14"/>
<rect x="112" y="64.34" width="8.5" height="9.7" fill="#e05536"/>
<rect x="120" y="64.34" width="8" height="9.7" fill="#a82e5f"/>
<rect x="0" y="72.38" width="8.5" height="9.7" fill="#f98e09"/>
<rect x="8" y="72.38" width="8.5" height="9.7" fill="#fbba1f"/>
<rect x="16" y="72.38" width="8.5" height="9.7" fill="#f7d13d"/>
<rect x="24" y="72.38" width="8.5" height="9.7" fill="#f3e35a"/>
<rect x="32" y="72.38" width="8.5" height="9.7" fill="#f1ec6d"/>
<rect x="40" y="72.38" width="8.5" height="9.7" fill="#f2f27d"/>
<rect x="48" y="72.38" width="8.5" height="9.7" fill="#f2f27d"/>
<rect x="56" y="72.38" width="8.5" height="9.7" fill="#f1ef75"/>
<rect x="64" y="72.38" width="8.5" height="9.7" fill="#f2ea69"/>
<rect x="72" y="72.38" width="8.5" height="9.7" fill="#f4dd4f"/>
<rect x="80" y="72.38" width="8.5" height="9.7" fill="#f9cb35"/>
<rect x="88" y="72.38" width="8.5" height="9.7" fill="#fcb418"/>
<rect x="96" y="72.38" width="8.5" height="9.7" fill="#fb9606"/>
<rect x="104" y="72.38" width="8.5" height="9.7" fill="#f3761b"/>
<rect x="112" y="72.38" width="8.5" height="9.7" fill="#da4e3c"/>
<rect x="120" y="72.38" width="8" height="9.7" fill="#9f2a63"/>
<rect x="0" y="80.42" width="8.5" height="9.7" fill="#f8890c"/>
<rect x="8" y="80.42" width="8.5" height="9.7" fill="#fcb216"/>
<rect x="16" y="80.42" width="8.5" height="9.7" fill="#f9c932"/>
<rect x="24" y="80.42" width="8.5" height="9.7" fill="#f5d949"/>
<rect x="32" y="80.42" width="8.5" height="9.7" fill="#f3e35a"/>
<rect x="40" y="80.42" width="8.5" height="9.7" fill="#f2e661"/>
<rect x="48" y="80.42" width="8.5" height="9.7" fill="#f2e661"/>
<rect x="56" y="80.42" width="8.5" height="9.7" fill="#f3e35a"/>
<rect x="64" y="80.42" width="8.5" height="9.7" fill="#f4dd4f"/>
<rect x="72" y="80.42" width="8.5" height="9.7" fill="#f8cf3a"/>
<rect x="80" y="80.42" width="8.5" height="9.7" fill="#fac026"/>
<rect x="88" y="80.42" width="8.5" height="9.7" fill="#fca60c"/>
<rect x="96" y="80.42" width="8.5" height="9.7" fill="#f8890c"/>
<rect x="104" y="80.42" width="8.5" height="9.7" fill="#ed6925"/>
<rect x="112" y="80.42" width="8.5" height="9.7" fill="#d04545"/>
<rect x="120" y="80.42" width="8" height="9.7" fill="#922568"/>
<rect x="0" y="88.46" width="8.5" height="9.7" fill="#f68013"/>
<rect x="8" y="88.46" width="8.5" height="9.7" fill="#fca80d"/>
<rect x="16" y="88.46" width="8.5" height="9.7" fill="#fbbe23"/>
<rect x="24" y="88.46" width="8.5" height="9.7" fill="#f9cb35"/>
<rect x="32" y="88.46" width="8.5" height="9.7" fill="#f6d543"/>
<rect x="40" y="88.46" width="8.5" height="9.7" fill="#f5d949"/>
<rect x="48" y="88.46" width="8.5" height="9.7" fill="#f6d543"/>
<rect x="56" y="88.46" width="8.5" height="9.7" fill="#f7d340"/>
<rect x="64" y="88.46" width="8.5" height="9.7" fill="#f9cb35"/>
<rect x="72" y="88.46" width="8.5" height="9.7" fill="#fac026"/>
<rect x="80" y="88.46" width="8.5" height="9.7" fill="#fcac11"/>
<rect x="88" y="88.46" width="8.5" height="9.7" fill="#fb9606"/>
<rect x="96" y="88.46" width="8.5" height="9.7" fill="#f57b17"/>
<rect x="104" y="88.46" width="8.5" height="9.7" fill="#e55c30"/>
<rect x="112" y="88.46" width="8.5" height="9.7" fill="#c43c4e"/>
<rect x="120" y="88.46" width="8" height="9.7" fill="#84206b"/>
<rect x="0" y="96.50" width="8.5" height="9.7" fill="#f3761b"/>
<rect x="8" y="96.50" width="8.5" height="9.7" fill="#fb9b06"/>
<rect x="16" y="96.50" width="8.5" height="9.7" fill="#fcae12"/>
<rect x="24" y="96.50" width="8.5" height="9.7" fill="#fbbc21"/>
<rect x="32" y="96.50" width="8.5" height="9.7" fill="#fac42a"/>
<rect x="40" y="96.50" width="8.5" height="9.7" fill="#fac62d"/>
<rect x="48" y="96.50" width="8.5" height="9.7" fill="#fac42a"/>
<rect x="56" y="96.50" width="8.5" height="9.7" fill="#fac026"/>
<rect x="64" y="96.50" width="8.5" height="9.7" fill="#fbb81d"/>
<rect x="72" y="96.50" width="8.5" height="9.7" fill="#fcaa0f"/>
<rect x="80" y="96.50" width="8.5" height="9.7" fill="#fb9906"/>
<rect x="88" y="96.50" width="8.5" height="9.7" fill="#f78212"/>
<rect x="96" y="96.50" width="8.5" height="9.7" fill="#ec6726"/>
<rect x="104" y="96.50" width="8.5" height="9.7" fill="#d94d3d"/>
<rect x="112" y="96.50" width="8.5" height="9.7" fill="#b3325a"/>
<rect x="120" y="96.50" width="8" height="9.7" fill="#71196e"/>
<rect x="0" y="104.55" width="8.5" height="9.7" fill="#eb6628"/>
<rect x="8" y="104.55" width="8.5" height="9.7" fill="#f8890c"/>
<rect x="16" y="104.55" width="8.5" height="9.7" fill="#fb9b06"/>
<rect x="24" y="104.55" width="8.5" height="9.7" fill="#fca60c"/>
<rect x="32" y="104.55" width="8.5" height="9.7" fill="#fcae12"/>
<rect x="40" y="104.55" width="8.5" height="9.7" fill="#fcb014"/>
<rect x="48" y="104.55" width="8.5" height="9.7" fill="#fcaa0f"/>
<rect x="56" y="104.55" width="8.5" height="9.7" fill="#fca60c"/>
<rect x="64" y="104.55" width="8.5" height="9.7" fill="#fc9f07"/>
<rect x="72" y="104.55" width="8.5" height="9.7" fill="#fa9407"/>
<rect x="80" y="104.55" width="8.5" height="9.7" fill="#f78212"/>
<rect x="88" y="104.55" width="8.5" height="9.7" fill="#ef6c23"/>
<rect x="96" y="104.55" width="8.5" height="9.7" fill="#e05536"/>
<rect x="104" y="104.55" width="8.5" height="9.7" fill="#c83f4b"/>
<rect x="112" y="104.55" width="8.5" height="9.7" fill="#9d2964"/>
<rect x="120" y="104.55" width="8" height="9.7" fill="#5a116e"/>
<rect x="0" y="112.59" width="8.5" height="9.7" fill="#db503b"/>
<rect x="8" y="112.59" width="8.5" height="9.7" fill="#ef6c23"/>
<rect x="16" y="112.59" width="8.5" height="9.7" fill="#f57d15"/>
<rect x="24" y="112.59" width="8.5" height="9.7" fill="#f8870e"/>
<rect x="32" y="112.59" width="8.5" height="9.7" fill="#f98c0a"/>
<rect x="40" y="112.59" width="8.5" height="9.7" fill="#f98c0a"/>
<rect x="48" y="112.59" width="8.5" height="9.7" fill="#f8870e"/>
<rect x="56" y="112.59" width="8.5" height="9.7" fill="#f78212"/>
<rect x="64" y="112.59" width="8.5" height="9.7" fill="#f57d15"/>
<rect x="72" y="112.59" width="8.5" height="9.7" fill="#f1711f"/>
<rect x="80" y="112.59" width="8.5" height="9.7" fill="#e9612b"/>
<rect x="88" y="112.59" width="8.5" height="9.7" fill="#dd513a"/>
<rect x="96" y="112.59" width="8.5" height="9.7" fill="#c73e4c"/>
<rect x="104" y="112.59" width="8.5" height="9.7" fill="#a92e5e"/>
<rect x="112" y="112.59" width="8.5" height="9.7" fill="#7d1e6d"/>
<rect x="120" y="112.59" width="8" height="9.7" fill="#360961"/>
<rect x="0" y="120.63" width="8.5" height="8.04" fill="#bc3754"/>
<rect x="8" y="120.63" width="8.5" height="8.04" fill="#d84c3e"/>
<rect x="16" y="120.63" width="8.5" height="8.04" fill="#e25734"/>
<rect x="24" y="120.63" width="8.5" height="8.04" fill="#e8602d"/>
<rect x="32" y="120.63" width="8.5" height="8.04" fill="#ea632a"/>
<rect x="40" y="120.63" width="8.5" height="8.04" fill="#e9612b"/>
<rect x="48" y="120.63" width="8.5" height="8.04" fill="#e55c30"/>
<rect x="56" y="120.63" width="8.5" height="8.04" fill="#e35933"/>
<rect x="64" y="120.63" width="8.5" height="8.04" fill="#df5337"/>
<rect x="72" y="120.63" width="8.5" height="8.04" fill="#d74b3f"/>
<rect x="80" y="120.63" width="8.5" height="8.04" fill="#ca404a"/>
<rect x="88" y="120.63" width="8.5" height="8.04" fill="#b73557"/>
<rect x="96" y="120.63" width="8.5" height="8.04" fill="#9d2964"/>
<rect x="104" y="120.63" width="8.5" height="8.04" fill="#7f1e6c"/>
<rect x="112" y="120.63" width="8.5" height="8.04" fill="#4f0d6c"/>
<rect x="120" y="120.63" width="8" height="8.04" fill="#0a0722"/>
</g>
<text x="1485.4" y="95.9" font-size="24.5" font-family="'DejaVu Sans', 'Liberation Sans', sans-serif" text-anchor="middle" textLength="18.5" lengthAdjust="spacingAndGlyphs" font-weight="bold" fill="#fff">S</text>
<g transform="translate(1473,221.9)">
<rect x="0" y="0.00" width="8.5" height="9.7" fill="#ae305c"/>
<rect x="8" y="0.00" width="8.5" height="9.7" fill="#d34743"/>
<rect x="16" y="0.00" width="8.5" height="9.7" fill="#e45a31"/>
<rect x="24" y="0.00" width="8.5" height="9.7" fill="#ee6a24"/>
<rect x="32" y="0.00" width="8.5" height="9.7" fill="#f47918"/>
<rect x="40" y="0.00" width="8.5" height="9.7" fill="#f78410"/>
<rect x="48" y="0.00" width="8.5" height="9.7" fill="#f8870e"/>
<rect x="56" y="0.00" width="8.5" height="9.7" fill="#f8870e"/>
<rect x="64" y="0.00" width="8.5" height="9.7" fill="#f78410"/>
<rect x="72" y="0.00" width="8.5" height="9.7" fill="#f47918"/>
<rect x="80" y="0.00" width="8.5" height="9.7" fill="#ee6a24"/>
<rect x="88" y="0.00" width="8.5" height="9.7" fill="#e45a31"/>
<rect x="96" y="0.00" width="8.5" height="9.7" fill="#d34743"/>
<rect x="104" y="0.00" width="8.5" height="9.7" fill="#b93556"/>
<rect x="112" y="0.00" width="8.5" height="9.7" fill="#8f2469"/>
<rect x="120" y="0.00" width="8" height="9.7" fill="#4f0d6c"/>
<rect x="0" y="8.04" width="8.5" height="9.7" fill="#d34743"/>
<rect x="8" y="8.04" width="8.5" height="9.7" fill="#ed6925"/>
<rect x="16" y="8.04" width="8.5" height="9.7" fill="#f68013"/>
<rect x="24" y="8.04" width="8.5" height="9.7" fill="#fb9606"/>
<rect x="32" y="8.04" width="8.5" height="9.7" fill="#fca60c"/>
<rect x="40" y="8.04" width="8.5" height="9.7" fill="#fcb216"/>
<rect x="48" y="8.04" width="8.5" height="9.7" fill="#fbb61a"/>
<rect x="56" y="8.04" width="8.5" height="9.7" fill="#fbb61a"/>
<rect x="64" y="8.04" width="8.5" height="9.7" fill="#fcb216"/>
<rect x="72" y="8.04" width="8.5" height="9.7" fill="#fca60c"/>
<rect x="80" y="8.04" width="8.5" height="9.7" fill="#fb9606"/>
<rect x="88" y="8.04" width="8.5" height="9.7" fill="#f68013"/>
<rect x="96" y="8.04" width="8.5" height="9.7" fill="#ed6925"/>
<rect x="104" y="8.04" width="8.5" height="9.7" fill="#db503b"/>
<rect x="112" y="8.04" width="8.5" height="9.7" fill="#b93556"/>
<rect x="120" y="8.04" width="8" height="9.7" fill="#781c6d"/>
<rect x="0" y="16.08" width="8.5" height="9.7" fill="#e15635"/>
<rect x="8" y="16.08" width="8.5" height="9.7" fill="#f57d15"/>
<rect x="16" y="16.08" width="8.5" height="9.7" fill="#fb9606"/>
<rect x="24" y="16.08" width="8.5" height="9.7" fill="#fcac11"/>
<rect x="32" y="16.08" width="8.5" height="9.7" fill="#fbbc21"/>
<rect x="40" y="16.08" width="8.5" height="9.7" fill="#f9c72f"/>
<rect x="48" y="16.08" width="8.5" height="9.7" fill="#f8cd37"/>
<rect x="56" y="16.08" width="8.5" height="9.7" fill="#f8cd37"/>
<rect x="64" y="16.08" width="8.5" height="9.7" fill="#f9c72f"/>
<rect x="72" y="16.08" width="8.5" height="9.7" fill="#fbbc21"/>
<rect x="80" y="16.08" width="8.5" height="9.7" fill="#fcac11"/>
<rect x="88" y="16.08" width="8.5" height="9.7" fill="#fb9606"/>
<rect x="96" y="16.08" width="8.5" height="9.7" fill="#f57d15"/>
<rect x="104" y="16.08" width="8.5" height="9.7" fill="#e8602d"/>
<rect x="112" y="16.08" width="8.5" height="9.7" fill="#ca404a"/>
<rect x="120" y="16.08" width="8" height="9.7" fill="#8d2369"/>
<rect x="0" y="24.13" width="8.5" height="9.7" fill="#ea632a"/>
<rect x="8" y="24.13" width="8.5" height="9.7" fill="#f98c0a"/>
<rect x="16" y="24.13" width="8.5" height="9.7" fill="#fca80d"/>
<rect x="24" y="24.13" width="8.5" height="9.7" fill="#fbbe23"/>
<rect x="32" y="24.13" width="8.5" height="9.7" fill="#f8cd37"/>
<rect x="40" y="24.13" width="8.5" height="9.7" fill="#f5d949"/>
<rect x="48" y="24.13" width="8.5" height="9.7" fill="#f4df53"/>
<rect x="56" y="24.13" width="8.5" height="9.7" fill="#f4df53"/>
<rect x="64" y="24.13" width="8.5" height="9.7" fill="#f5d949"/>
<rect x="72" y="24.13" width="8.5" height="9.7" fill="#f8cd37"/>
<rect x="80" y="24.13" width="8.5" height="9.7" fill="#fbbe23"/>
<rect x="88" y="24.13" width="8.5" height="9.7" fill="#fca80d"/>
<rect x="96" y="24.13" width="8.5" height="9.7" fill="#f98c0a"/>
<rect x="104" y="24.13" width="8.5" height="9.7" fill="#f06f20"/>
<rect x="112" y="24.13" width="8.5" height="9.7" fill="#d74b3f"/>
<rect x="120" y="24.13" width="8" height="9.7" fill="#9d2964"/>
<rect x="0" y="32.17" width="8.5" height="9.7" fill="#ef6c23"/>
<rect x="8" y="32.17" width="8.5" height="9.7" fill="#fb9706"/>
<rect x="16" y="32.17" width="8.5" height="9.7" fill="#fcb418"/>
<rect x="24" y="32.17" width="8.5" height="9.7" fill="#f9c932"/>
<rect x="32" y="32.17" width="8.5" height="9.7" fill="#f5d949"/>
<rect x="40" y="32.17" width="8.5" height="9.7" fill="#f3e55d"/>
<rect x="48" y="32.17" width="8.5" height="9.7" fill="#f2ea69"/>
<rect x="56" y="32.17" width="8.5" height="9.7" fill="#f2ea69"/>
<rect x="64" y="32.17" width="8.5" height="9.7" fill="#f3e55d"/>
<rect x="72" y="32.17" width="8.5" height="9.7" fill="#f5d949"/>
<rect x="80" y="32.17" width="8.5" height="9.7" fill="#f9c932"/>
<rect x="88" y="32.17" width="8.5" height="9.7" fill="#fcb418"/>
<rect x="96" y="32.17" width="8.5" height="9.7" fill="#fb9706"/>
<rect x="104" y="32.17" width="8.5" height="9.7" fill="#f47918"/>
<rect x="112" y="32.17" width="8.5" height="9.7" fill="#de5238"/>
<rect x="120" y="32.17" width="8" height="9.7" fill="#a62d60"/>
<rect x="0" y="40.21" width="8.5" height="9.7" fill="#f1711f"/>
<rect x="8" y="40.21" width="8.5" height="9.7" fill="#fb9d07"/>
<rect x="16" y="40.21" width="8.5" height="9.7" fill="#fbb81d"/>
<rect x="24" y="40.21" width="8.5" height="9.7" fill="#f8cf3a"/>
<rect x="32" y="40.21" width="8.5" height="9.7" fill="#f4df53"/>
<rect x="40" y="40.21" width="8.5" height="9.7" fill="#f2ea69"/>
<rect x="48" y="40.21" width="8.5" height="9.7" fill="#f1f179"/>
<rect x="56" y="40.21" width="8.5" height="9.7" fill="#f1f179"/>
<rect x="64" y="40.21" width="8.5" height="9.7" fill="#f2ea69"/>
<rect x="72" y="40.21" width="8.5" height="9.7" fill="#f4df53"/>
<rect x="80" y="40.21" width="8.5" height="9.7" fill="#f8cf3a"/>
<rect x="88" y="40.21" width="8.5" height="9.7" fill="#fbb81d"/>
<rect x="96" y="40.21" width="8.5" height="9.7" fill="#fb9d07"/>
<rect x="104" y="40.21" width="8.5" height="9.7" fill="#f67e14"/>
<rect x="112" y="40.21" width="8.5" height="9.7" fill="#e15635"/>
<rect x="120" y="40.21" width="8" height="9.7" fill="#ad305d"/>
<rect x="0" y="48.25" width="8.5" height="9.7" fill="#f2741c"/>
<rect x="8" y="48.25" width="8.5" height="9.7" fill="#fca108"/>
<rect x="16" y="48.25" width="8.5" height="9.7" fill="#fbbc21"/>
<rect x="24" y="48.25" width="8.5" height="9.7" fill="#f7d13d"/>
<rect x="32" y="48.25" width="8.5" height="9.7" fill="#f4e156"/>
<rect x="40" y="48.25" width="8.5" height="9.7" fill="#f1ec6d"/>
<rect x="48" y="48.25" width="8.5" height="9.7" fill="#f1f179"/>
<rect x="56" y="48.25" width="8.5" height="9.7" fill="#f1f179"/>
<rect x="64" y="48.25" width="8.5" height="9.7" fill="#f1ec6d"/>
<rect x="72" y="48.25" width="8.5" height="9.7" fill="#f4e156"/>
<rect x="80" y="48.25" width="8.5" height="9.7" fill="#f8cf3a"/>
<rect x="88" y="48.25" width="8.5" height="9.7" fill="#fbba1f"/>
<rect x="96" y="48.25" width="8.5" height="9.7" fill="#fc9f07"/>
<rect x="104" y="48.25" width="8.5" height="9.7" fill="#f67e14"/>
<rect x="112" y="48.25" width="8.5" height="9.7" fill="#e25734"/>
<rect x="120" y="48.25" width="8" height="9.7" fill="#ad305d"/>
<rect x="0" y="56.29" width="8.5" height="9.7" fill="#f47918"/>
<rect x="8" y="56.29" width="8.5" height="9.7" fill="#fca50a"/>
<rect x="16" y="56.29" width="8.5" height="9.7" fill="#fbbe23"/>
<rect x="24" y="56.29" width="8.5" height="9.7" fill="#f7d340"/>
<rect x="32" y="56.29" width="8.5" height="9.7" fill="#f4e156"/>
<rect x="40" y="56.29" width="8.5" height="9.7" fill="#f2ea69"/>
<rect x="48" y="56.29" width="8.5" height="9.7" fill="#f1ef75"/>
<rect x="56" y="56.29" width="8.5" height="9.7" fill="#f1ed71"/>
<rect x="64" y="56.29" width="8.5" height="9.7" fill="#f2e865"/>
<rect x="72" y="56.29" width="8.5" height="9.7" fill="#f4dd4f"/>
<rect x="80" y="56.29" width="8.5" height="9.7" fill="#f9cb35"/>
<rect x="88" y="56.29" width="8.5" height="9.7" fill="#fbb61a"/>
<rect x="96" y="56.29" width="8.5" height="9.7" fill="#fb9b06"/>
<rect x="104" y="56.29" width="8.5" height="9.7" fill="#f57b17"/>
<rect x="112" y="56.29" width="8.5" height="9.7" fill="#e05536"/>
<rect x="120" y="56.29" width="8" height="9.7" fill="#a92e5e"/>
<rect x="0" y="64.34" width="8.5" height="9.7" fill="#f57b17"/>
<rect x="8" y="64.34" width="8.5" height="9.7" fill="#fca50a"/>
<rect x="16" y="64.34" width="8.5" height="9.7" fill="#fbbe23"/>
<rect x="24" y="64.34" width="8.5" height="9.7" fill="#f7d13d"/>
<rect x="32" y="64.34" width="8.5" height="9.7" fill="#f4dd4f"/>
<rect x="40" y="64.34" width="8.5" height="9.7" fill="#f3e55d"/>
<rect x="48" y="64.34" width="8.5" height="9.7" fill="#f2e865"/>
<rect x="56" y="64.34" width="8.5" height="9.7" fill="#f2e661"/>
<rect x="64" y="64.34" width="8.5" height="9.7" fill="#f4e156"/>
<rect x="72" y="64.34" width="8.5" height="9.7" fill="#f6d543"/>
<rect x="80" y="64.34" width="8.5" height="9.7" fill="#fac62d"/>
<rect x="88" y="64.34" width="8.5" height="9.7" fill="#fcb014"/>
<rect x="96" y="64.34" width="8.5" height="9.7" fill="#fa9407"/>
<rect x="104" y="64.34" width="8.5" height="9.7" fill="#f3761b"/>
<rect x="112" y="64.34" width="8.5" height="9.7" fill="#db503b"/>
<rect x="120" y="64.34" width="8" height="9.7" fill="#a32c61"/>
<rect x="0" y="72.38" width="8.5" height="9.7" fill="#f37819"/>
<rect x="8" y="72.38" width="8.5" height="9.7" fill="#fca108"/>
<rect x="16" y="72.38" width="8.5" height="9.7" fill="#fbb81d"/>
<rect x="24" y="72.38" width="8.5" height="9.7" fill="#f9c932"/>
<rect x="32" y="72.38" width="8.5" height="9.7" fill="#f6d543"/>
<rect x="40" y="72.38" width="8.5" height="9.7" fill="#f4dd4f"/>
<rect x="48" y="72.38" width="8.5" height="9.7" fill="#f4dd4f"/>
<rect x="56" y="72.38" width="8.5" height="9.7" fill="#f5db4c"/>
<rect x="64" y="72.38" width="8.5" height="9.7" fill="#f6d543"/>
<rect x="72" y="72.38" width="8.5" height="9.7" fill="#f9cb35"/>
<rect x="80" y="72.38" width="8.5" height="9.7" fill="#fbba1f"/>
<rect x="88" y="72.38" width="8.5" height="9.7" fill="#fca50a"/>
<rect x="96" y="72.38" width="8.5" height="9.7" fill="#f98b0b"/>
<rect x="104" y="72.38" width="8.5" height="9.7" fill="#ef6c23"/>
<rect x="112" y="72.38" width="8.5" height="9.7" fill="#d44842"/>
<rect x="120" y="72.38" width="8" height="9.7" fill="#9a2865"/>
<rect x="0" y="80.42" width="8.5" height="9.7" fill="#f1731d"/>
<rect x="8" y="80.42" width="8.5" height="9.7" fill="#fb9906"/>
<rect x="16" y="80.42" width="8.5" height="9.7" fill="#fcae12"/>
<rect x="24" y="80.42" width="8.5" height="9.7" fill="#fac228"/>
<rect x="32" y="80.42" width="8.5" height="9.7" fill="#f9cb35"/>
<rect x="40" y="80.42" width="8.5" height="9.7" fill="#f8cf3a"/>
<rect x="48" y="80.42" width="8.5" height="9.7" fill="#f8cf3a"/>
<rect x="56" y="80.42" width="8.5" height="9.7" fill="#f8cd37"/>
<rect x="64" y="80.42" width="8.5" height="9.7" fill="#f9c72f"/>
<rect x="72" y="80.42" width="8.5" height="9.7" fill="#fbbc21"/>
<rect x="80" y="80.42" width="8.5" height="9.7" fill="#fcac11"/>
<rect x="88" y="80.42" width="8.5" height="9.7" fill="#fb9606"/>
<rect x="96" y="80.42" width="8.5" height="9.7" fill="#f57d15"/>
<rect x="104" y="80.42" width="8.5" height="9.7" fill="#e8602d"/>
<rect x="112" y="80.42" width="8.5" height="9.7" fill="#ca404a"/>
<rect x="120" y="80.42" width="8" height="9.7" fill="#8d2369"/>
<rect x="0" y="88.46" width="8.5" height="9.7" fill="#ed6925"/>
<rect x="8" y="88.46" width="8.5" height="9.7" fill="#f98e09"/>
<rect x="16" y="88.46" width="8.5" height="9.7" fill="#fca309"/>
<rect x="24" y="88.46" width="8.5" height="9.7" fill="#fcb216"/>
<rect x="32" y="88.46" width="8.5" height="9.7" fill="#fbbc21"/>
<rect x="40" y="88.46" width="8.5" height="9.7" fill="#fac026"/>
<rect x="48" y="88.46" width="8.5" height="9.7" fill="#fbbe23"/>
<rect x="56" y="88.46" width="8.5" height="9.7" fill="#fbba1f"/>
<rect x="64" y="88.46" width="8.5" height="9.7" fill="#fbb61a"/>
<rect x="72" y="88.46" width="8.5" height="9.7" fill="#fcaa0f"/>
<rect x="80" y="88.46" width="8.5" height="9.7" fill="#fb9906"/>
<rect x="88" y="88.46" width="8.5" height="9.7" fill="#f8850f"/>
<rect x="96" y="88.46" width="8.5" height="9.7" fill="#ef6e21"/>
<rect x="104" y="88.46" width="8.5" height="9.7" fill="#df5337"/>
<rect x="112" y="88.46" width="8.5" height="9.7" fill="#bc3754"/>
<rect x="120" y="88.46" width="8" height="9.7" fill="#7d1e6d"/>
<rect x="0" y="96.50" width="8.5" height="9.7" fill="#e65d2f"/>
<rect x="8" y="96.50" width="8.5" height="9.7" fill="#f68013"/>
<rect x="16" y="96.50" width="8.5" height="9.7" fill="#fa9407"/>
<rect x="24" y="96.50" width="8.5" height="9.7" fill="#fca108"/>
<rect x="32" y="96.50" width="8.5" height="9.7" fill="#fca80d"/>
<rect x="40" y="96.50" width="8.5" height="9.7" fill="#fcac11"/>
<rect x="48" y="96.50" width="8.5" height="9.7" fill="#fca80d"/>
<rect x="56" y="96.50" width="8.5" height="9.7" fill="#fca50a"/>
<rect x="64" y="96.50" width="8.5" height="9.7" fill="#fc9f07"/>
<rect x="72" y="96.50" width="8.5" height="9.7" fill="#fb9606"/>
<rect x="80" y="96.50" width="8.5" height="9.7" fill="#f8850f"/>
<rect x="88" y="96.50" width="8.5" height="9.7" fill="#f1731d"/>
<rect x="96" y="96.50" width="8.5" height="9.7" fill="#e55c30"/>
<rect x="104" y="96.50" width="8.5" height="9.7" fill="#cf4446"/>
<rect x="112" y="96.50" width="8.5" height="9.7" fill="#a92e5e"/>
<rect x="120" y="96.50" width="8" height="9.7" fill="#6a176e"/>
<rect x="0" y="104.55" width="8.5" height="9.7" fill="#dd513a"/>
<rect x="8" y="104.55" width="8.5" height="9.7" fill="#f06f20"/>
<rect x="16" y="104.55" width="8.5" height="9.7" fill="#f68013"/>
<rect x="24" y="104.55" width="8.5" height="9.7" fill="#f98c0a"/>
<rect x="32" y="104.55" width="8.5" height="9.7" fill="#fa9207"/>
<rect x="40" y="104.55" width="8.5" height="9.7" fill="#fa9407"/>
<rect x="48" y="104.55" width="8.5" height="9.7" fill="#fa9008"/>
<rect x="56" y="104.55" width="8.5" height="9.7" fill="#f98c0a"/>
<rect x="64" y="104.55" width="8.5" height="9.7" fill="#f8870e"/>
<rect x="72" y="104.55" width="8.5" height="9.7" fill="#f57d15"/>
<rect x="80" y="104.55" width="8.5" height="9.7" fill="#f06f20"/>
<rect x="88" y="104.55" width="8.5" height="9.7" fill="#e65d2f"/>
<rect x="96" y="104.55" width="8.5" height="9.7" fill="#d54a41"/>
<rect x="104" y="104.55" width="8.5" height="9.7" fill="#bc3754"/>
<rect x="112" y="104.55" width="8.5" height="9.7" fill="#922568"/>
<rect x="120" y="104.55" width="8" height="9.7" fill="#510e6c"/>
<rect x="0" y="112.59" width="8.5" height="9.7" fill="#c63d4d"/>
<rect x="8" y="112.59" width="8.5" height="9.7" fill="#e05536"/>
<rect x="16" y="112.59" width="8.5" height="9.7" fill="#ea632a"/>
<rect x="24" y="112.59" width="8.5" height="9.7" fill="#ef6c23"/>
<rect x="32" y="112.59" width="8.5" height="9.7" fill="#f1711f"/>
<rect x="40" y="112.59" width="8.5" height="9.7" fill="#f1731d"/>
<rect x="48" y="112.59" width="8.5" height="9.7" fill="#ef6e21"/>
<rect x="56" y="112.59" width="8.5" height="9.7" fill="#ee6a24"/>
<rect x="64" y="112.59" width="8.5" height="9.7" fill="#eb6628"/>
<rect x="72" y="112.59" width="8.5" height="9.7" fill="#e65d2f"/>
<rect x="80" y="112.59" width="8.5" height="9.7" fill="#dd513a"/>
<rect x="88" y="112.59" width="8.5" height="9.7" fill="#ce4347"/>
<rect x="96" y="112.59" width="8.5" height="9.7" fill="#b73557"/>
<rect x="104" y="112.59" width="8.5" height="9.7" fill="#9a2865"/>
<rect x="112" y="112.59" width="8.5" height="9.7" fill="#6f196e"/>
<rect x="120" y="112.59" width="8" height="9.7" fill="#290b55"/>
<rect x="0" y="120.63" width="8.5" height="8.04" fill="#a02a63"/>
<rect x="8" y="120.63" width="8.5" height="8.04" fill="#c03a51"/>
<rect x="16" y="120.63" width="8.5" height="8.04" fill="#cc4248"/>
<rect x="24" y="120.63" width="8.5" height="8.04" fill="#d44842"/>
<rect x="32" y="120.63" width="8.5" height="8.04" fill="#d84c3e"/>
<rect x="40" y="120.63" width="8.5" height="8.04" fill="#d84c3e"/>
<rect x="48" y="120.63" width="8.5" height="8.04" fill="#d44842"/>
<rect x="56" y="120.63" width="8.5" height="8.04" fill="#cf4446"/>
<rect x="64" y="120.63" width="8.5" height="8.04" fill="#cc4248"/>
<rect x="72" y="120.63" width="8.5" height="8.04" fill="#c43c4e"/>
<rect x="80" y="120.63" width="8.5" height="8.04" fill="#b63458"/>
<rect x="88" y="120.63" width="8.5" height="8.04" fill="#a32c61"/>
<rect x="96" y="120.63" width="8.5" height="8.04" fill="#8a226a"/>
<rect x="104" y="120.63" width="8.5" height="8.04" fill="#6d186e"/>
<rect x="112" y="120.63" width="8.5" height="8.04" fill="#3e0966"/>
<rect x="120" y="120.63" width="8" height="8.04" fill="#02020e"/>
</g>
<text x="1485.4" y="246.0" font-size="24.5" font-family="'DejaVu Sans', 'Liberation Sans', sans-serif" text-anchor="middle" textLength="25.6" lengthAdjust="spacingAndGlyphs" font-weight="bold" fill="#fff">M</text>
<g transform="translate(1473,371.95)">
<rect x="0" y="0.00" width="8.5" height="9.7" fill="#c03a51"/>
<rect x="8" y="0.00" width="8.5" height="9.7" fill="#c33b4f"/>
<rect x="16" y="0.00" width="8.5" height="9.7" fill="#bf3952"/>
<rect x="24" y="0.00" width="8.5" height="9.7" fill="#ba3655"/>
<rect x="32" y="0.00" width="8.5" height="9.7" fill="#b93556"/>
<rect x="40" y="0.00" width="8.5" height="9.7" fill="#bc3754"/>
<rect x="48" y="0.00" width="8.5" height="9.7" fill="#b63458"/>
<rect x="56" y="0.00" width="8.5" height="9.7" fill="#b93556"/>
<rect x="64" y="0.00" width="8.5" height="9.7" fill="#b73557"/>
<rect x="72" y="0.00" width="8.5" height="9.7" fill="#b0315b"/>
<rect x="80" y="0.00" width="8.5" height="9.7" fill="#b0315b"/>
<rect x="88" y="0.00" width="8.5" height="9.7" fill="#b1325a"/>
<rect x="96" y="0.00" width="8.5" height="9.7" fill="#ad305d"/>
<rect x="104" y="0.00" width="8.5" height="9.7" fill="#ae305c"/>
<rect x="112" y="0.00" width="8.5" height="9.7" fill="#a82e5f"/>
<rect x="120" y="0.00" width="8" height="9.7" fill="#a82e5f"/>
<rect x="0" y="8.04" width="8.5" height="9.7" fill="#c13a50"/>
<rect x="8" y="8.04" width="8.5" height="9.7" fill="#c43c4e"/>
<rect x="16" y="8.04" width="8.5" height="9.7" fill="#c33b4f"/>
<rect x="24" y="8.04" width="8.5" height="9.7" fill="#bf3952"/>
<rect x="32" y="8.04" width="8.5" height="9.7" fill="#bc3754"/>
<rect x="40" y="8.04" width="8.5" height="9.7" fill="#ba3655"/>
<rect x="48" y="8.04" width="8.5" height="9.7" fill="#ba3655"/>
<rect x="56" y="8.04" width="8.5" height="9.7" fill="#b43359"/>
<rect x="64" y="8.04" width="8.5" height="9.7" fill="#b63458"/>
<rect x="72" y="8.04" width="8.5" height="9.7" fill="#b3325a"/>
<rect x="80" y="8.04" width="8.5" height="9.7" fill="#b1325a"/>
<rect x="88" y="8.04" width="8.5" height="9.7" fill="#b0315b"/>
<rect x="96" y="8.04" width="8.5" height="9.7" fill="#b1325a"/>
<rect x="104" y="8.04" width="8.5" height="9.7" fill="#ab2f5e"/>
<rect x="112" y="8.04" width="8.5" height="9.7" fill="#a92e5e"/>
<rect x="120" y="8.04" width="8" height="9.7" fill="#a62d60"/>
<rect x="0" y="16.08" width="8.5" height="9.7" fill="#c13a50"/>
<rect x="8" y="16.08" width="8.5" height="9.7" fill="#c33b4f"/>
<rect x="16" y="16.08" width="8.5" height="9.7" fill="#c43c4e"/>
<rect x="24" y="16.08" width="8.5" height="9.7" fill="#c33b4f"/>
<rect x="32" y="16.08" width="8.5" height="9.7" fill="#bf3952"/>
<rect x="40" y="16.08" width="8.5" height="9.7" fill="#bc3754"/>
<rect x="48" y="16.08" width="8.5" height="9.7" fill="#bd3853"/>
<rect x="56" y="16.08" width="8.5" height="9.7" fill="#b93556"/>
<rect x="64" y="16.08" width="8.5" height="9.7" fill="#b73557"/>
<rect x="72" y="16.08" width="8.5" height="9.7" fill="#b73557"/>
<rect x="80" y="16.08" width="8.5" height="9.7" fill="#b1325a"/>
<rect x="88" y="16.08" width="8.5" height="9.7" fill="#b43359"/>
<rect x="96" y="16.08" width="8.5" height="9.7" fill="#ad305d"/>
<rect x="104" y="16.08" width="8.5" height="9.7" fill="#ae305c"/>
<rect x="112" y="16.08" width="8.5" height="9.7" fill="#b0315b"/>
<rect x="120" y="16.08" width="8" height="9.7" fill="#ab2f5e"/>
<rect x="0" y="24.13" width="8.5" height="9.7" fill="#c63d4d"/>
<rect x="8" y="24.13" width="8.5" height="9.7" fill="#c73e4c"/>
<rect x="16" y="24.13" width="8.5" height="9.7" fill="#c63d4d"/>
<rect x="24" y="24.13" width="8.5" height="9.7" fill="#c33b4f"/>
<rect x="32" y="24.13" width="8.5" height="9.7" fill="#bd3853"/>
<rect x="40" y="24.13" width="8.5" height="9.7" fill="#c13a50"/>
<rect x="48" y="24.13" width="8.5" height="9.7" fill="#b93556"/>
<rect x="56" y="24.13" width="8.5" height="9.7" fill="#bc3754"/>
<rect x="64" y="24.13" width="8.5" height="9.7" fill="#bc3754"/>
<rect x="72" y="24.13" width="8.5" height="9.7" fill="#b43359"/>
<rect x="80" y="24.13" width="8.5" height="9.7" fill="#b63458"/>
<rect x="88" y="24.13" width="8.5" height="9.7" fill="#b63458"/>
<rect x="96" y="24.13" width="8.5" height="9.7" fill="#b0315b"/>
<rect x="104" y="24.13" width="8.5" height="9.7" fill="#ae305c"/>
<rect x="112" y="24.13" width="8.5" height="9.7" fill="#ab2f5e"/>
<rect x="120" y="24.13" width="8" height="9.7" fill="#a92e5e"/>
<rect x="0" y="32.17" width="8.5" height="9.7" fill="#c63d4d"/>
<rect x="8" y="32.17" width="8.5" height="9.7" fill="#c43c4e"/>
<rect x="16" y="32.17" width="8.5" height="9.7" fill="#c73e4c"/>
<rect x="24" y="32.17" width="8.5" height="9.7" fill="#c43c4e"/>
<rect x="32" y="32.17" width="8.5" height="9.7" fill="#c33b4f"/>
<rect x="40" y="32.17" width="8.5" height="9.7" fill="#c13a50"/>
<rect x="48" y="32.17" width="8.5" height="9.7" fill="#c03a51"/>
<rect x="56" y="32.17" width="8.5" height="9.7" fill="#ba3655"/>
<rect x="64" y="32.17" width="8.5" height="9.7" fill="#ba3655"/>
<rect x="72" y="32.17" width="8.5" height="9.7" fill="#b63458"/>
<rect x="80" y="32.17" width="8.5" height="9.7" fill="#b73557"/>
<rect x="88" y="32.17" width="8.5" height="9.7" fill="#b73557"/>
<rect x="96" y="32.17" width="8.5" height="9.7" fill="#b3325a"/>
<rect x="104" y="32.17" width="8.5" height="9.7" fill="#b0315b"/>
<rect x="112" y="32.17" width="8.5" height="9.7" fill="#ae305c"/>
<rect x="120" y="32.17" width="8" height="9.7" fill="#ad305d"/>
<rect x="0" y="40.21" width="8.5" height="9.7" fill="#cc4248"/>
<rect x="8" y="40.21" width="8.5" height="9.7" fill="#cb4149"/>
<rect x="16" y="40.21" width="8.5" height="9.7" fill="#c83f4b"/>
<rect x="24" y="40.21" width="8.5" height="9.7" fill="#c83f4b"/>
<rect x="32" y="40.21" width="8.5" height="9.7" fill="#c43c4e"/>
<rect x="40" y="40.21" width="8.5" height="9.7" fill="#c03a51"/>
<rect x="48" y="40.21" width="8.5" height="9.7" fill="#bf3952"/>
<rect x="56" y="40.21" width="8.5" height="9.7" fill="#bf3952"/>
<rect x="64" y="40.21" width="8.5" height="9.7" fill="#bd3853"/>
<rect x="72" y="40.21" width="8.5" height="9.7" fill="#bc3754"/>
<rect x="80" y="40.21" width="8.5" height="9.7" fill="#b93556"/>
<rect x="88" y="40.21" width="8.5" height="9.7" fill="#b43359"/>
<rect x="96" y="40.21" width="8.5" height="9.7" fill="#b93556"/>
<rect x="104" y="40.21" width="8.5" height="9.7" fill="#b1325a"/>
<rect x="112" y="40.21" width="8.5" height="9.7" fill="#b43359"/>
<rect x="120" y="40.21" width="8" height="9.7" fill="#ad305d"/>
<rect x="0" y="48.25" width="8.5" height="9.7" fill="#ce4347"/>
<rect x="8" y="48.25" width="8.5" height="9.7" fill="#c83f4b"/>
<rect x="16" y="48.25" width="8.5" height="9.7" fill="#ca404a"/>
<rect x="24" y="48.25" width="8.5" height="9.7" fill="#c33b4f"/>
<rect x="32" y="48.25" width="8.5" height="9.7" fill="#c43c4e"/>
<rect x="40" y="48.25" width="8.5" height="9.7" fill="#c13a50"/>
<rect x="48" y="48.25" width="8.5" height="9.7" fill="#c33b4f"/>
<rect x="56" y="48.25" width="8.5" height="9.7" fill="#c03a51"/>
<rect x="64" y="48.25" width="8.5" height="9.7" fill="#bd3853"/>
<rect x="72" y="48.25" width="8.5" height="9.7" fill="#bd3853"/>
<rect x="80" y="48.25" width="8.5" height="9.7" fill="#bd3853"/>
<rect x="88" y="48.25" width="8.5" height="9.7" fill="#b63458"/>
<rect x="96" y="48.25" width="8.5" height="9.7" fill="#b73557"/>
<rect x="104" y="48.25" width="8.5" height="9.7" fill="#b63458"/>
<rect x="112" y="48.25" width="8.5" height="9.7" fill="#b43359"/>
<rect x="120" y="48.25" width="8" height="9.7" fill="#b0315b"/>
<rect x="0" y="56.29" width="8.5" height="9.7" fill="#cf4446"/>
<rect x="8" y="56.29" width="8.5" height="9.7" fill="#c83f4b"/>
<rect x="16" y="56.29" width="8.5" height="9.7" fill="#cb4149"/>
<rect x="24" y="56.29" width="8.5" height="9.7" fill="#c73e4c"/>
<rect x="32" y="56.29" width="8.5" height="9.7" fill="#c33b4f"/>
<rect x="40" y="56.29" width="8.5" height="9.7" fill="#c63d4d"/>
<rect x="48" y="56.29" width="8.5" height="9.7" fill="#c03a51"/>
<rect x="56" y="56.29" width="8.5" height="9.7" fill="#c33b4f"/>
<rect x="64" y="56.29" width="8.5" height="9.7" fill="#c03a51"/>
<rect x="72" y="56.29" width="8.5" height="9.7" fill="#c03a51"/>
<rect x="80" y="56.29" width="8.5" height="9.7" fill="#bd3853"/>
<rect x="88" y="56.29" width="8.5" height="9.7" fill="#b93556"/>
<rect x="96" y="56.29" width="8.5" height="9.7" fill="#b63458"/>
<rect x="104" y="56.29" width="8.5" height="9.7" fill="#b43359"/>
<rect x="112" y="56.29" width="8.5" height="9.7" fill="#b1325a"/>
<rect x="120" y="56.29" width="8" height="9.7" fill="#b43359"/>
<rect x="0" y="64.34" width="8.5" height="9.7" fill="#cb4149"/>
<rect x="8" y="64.34" width="8.5" height="9.7" fill="#ca404a"/>
<rect x="16" y="64.34" width="8.5" height="9.7" fill="#c83f4b"/>
<rect x="24" y="64.34" width="8.5" height="9.7" fill="#c83f4b"/>
<rect x="32" y="64.34" width="8.5" height="9.7" fill="#c83f4b"/>
<rect x="40" y="64.34" width="8.5" height="9.7" fill="#c63d4d"/>
<rect x="48" y="64.34" width="8.5" height="9.7" fill="#c43c4e"/>
<rect x="56" y="64.34" width="8.5" height="9.7" fill="#bf3952"/>
<rect x="64" y="64.34" width="8.5" height="9.7" fill="#bf3952"/>
<rect x="72" y="64.34" width="8.5" height="9.7" fill="#bd3853"/>
<rect x="80" y="64.34" width="8.5" height="9.7" fill="#bf3952"/>
<rect x="88" y="64.34" width="8.5" height="9.7" fill="#b73557"/>
<rect x="96" y="64.34" width="8.5" height="9.7" fill="#ba3655"/>
<rect x="104" y="64.34" width="8.5" height="9.7" fill="#b93556"/>
<rect x="112" y="64.34" width="8.5" height="9.7" fill="#b63458"/>
<rect x="120" y="64.34" width="8" height="9.7" fill="#b1325a"/>
<rect x="0" y="72.38" width="8.5" height="9.7" fill="#ce4347"/>
<rect x="8" y="72.38" width="8.5" height="9.7" fill="#cb4149"/>
<rect x="16" y="72.38" width="8.5" height="9.7" fill="#ca404a"/>
<rect x="24" y="72.38" width="8.5" height="9.7" fill="#c83f4b"/>
<rect x="32" y="72.38" width="8.5" height="9.7" fill="#cb4149"/>
<rect x="40" y="72.38" width="8.5" height="9.7" fill="#c83f4b"/>
<rect x="48" y="72.38" width="8.5" height="9.7" fill="#c83f4b"/>
<rect x="56" y="72.38" width="8.5" height="9.7" fill="#c63d4d"/>
<rect x="64" y="72.38" width="8.5" height="9.7" fill="#c13a50"/>
<rect x="72" y="72.38" width="8.5" height="9.7" fill="#c33b4f"/>
<rect x="80" y="72.38" width="8.5" height="9.7" fill="#bf3952"/>
<rect x="88" y="72.38" width="8.5" height="9.7" fill="#ba3655"/>
<rect x="96" y="72.38" width="8.5" height="9.7" fill="#bd3853"/>
<rect x="104" y="72.38" width="8.5" height="9.7" fill="#b73557"/>
<rect x="112" y="72.38" width="8.5" height="9.7" fill="#ba3655"/>
<rect x="120" y="72.38" width="8" height="9.7" fill="#b73557"/>
<rect x="0" y="80.42" width="8.5" height="9.7" fill="#cf4446"/>
<rect x="8" y="80.42" width="8.5" height="9.7" fill="#ce4347"/>
<rect x="16" y="80.42" width="8.5" height="9.7" fill="#cf4446"/>
<rect x="24" y="80.42" width="8.5" height="9.7" fill="#cc4248"/>
<rect x="32" y="80.42" width="8.5" height="9.7" fill="#ca404a"/>
<rect x="40" y="80.42" width="8.5" height="9.7" fill="#c63d4d"/>
<rect x="48" y="80.42" width="8.5" height="9.7" fill="#c63d4d"/>
<rect x="56" y="80.42" width="8.5" height="9.7" fill="#c63d4d"/>
<rect x="64" y="80.42" width="8.5" height="9.7" fill="#c33b4f"/>
<rect x="72" y="80.42" width="8.5" height="9.7" fill="#c33b4f"/>
<rect x="80" y="80.42" width="8.5" height="9.7" fill="#c13a50"/>
<rect x="88" y="80.42" width="8.5" height="9.7" fill="#bd3853"/>
<rect x="96" y="80.42" width="8.5" height="9.7" fill="#ba3655"/>
<rect x="104" y="80.42" width="8.5" height="9.7" fill="#bc3754"/>
<rect x="112" y="80.42" width="8.5" height="9.7" fill="#b73557"/>
<rect x="120" y="80.42" width="8" height="9.7" fill="#b73557"/>
<rect x="0" y="88.46" width="8.5" height="9.7" fill="#cf4446"/>
<rect x="8" y="88.46" width="8.5" height="9.7" fill="#ce4347"/>
<rect x="16" y="88.46" width="8.5" height="9.7" fill="#ce4347"/>
<rect x="24" y="88.46" width="8.5" height="9.7" fill="#ce4347"/>
<rect x="32" y="88.46" width="8.5" height="9.7" fill="#c83f4b"/>
<rect x="40" y="88.46" width="8.5" height="9.7" fill="#cb4149"/>
<rect x="48" y="88.46" width="8.5" height="9.7" fill="#ca404a"/>
<rect x="56" y="88.46" width="8.5" height="9.7" fill="#c73e4c"/>
<rect x="64" y="88.46" width="8.5" height="9.7" fill="#c73e4c"/>
<rect x="72" y="88.46" width="8.5" height="9.7" fill="#c13a50"/>
<rect x="80" y="88.46" width="8.5" height="9.7" fill="#bf3952"/>
<rect x="88" y="88.46" width="8.5" height="9.7" fill="#bf3952"/>
<rect x="96" y="88.46" width="8.5" height="9.7" fill="#bc3754"/>
<rect x="104" y="88.46" width="8.5" height="9.7" fill="#bc3754"/>
<rect x="112" y="88.46" width="8.5" height="9.7" fill="#bc3754"/>
<rect x="120" y="88.46" width="8" height="9.7" fill="#b73557"/>
<rect x="0" y="96.50" width="8.5" height="9.7" fill="#d54a41"/>
<rect x="8" y="96.50" width="8.5" height="9.7" fill="#d04545"/>
<rect x="16" y="96.50" width="8.5" height="9.7" fill="#ce4347"/>
<rect x="24" y="96.50" width="8.5" height="9.7" fill="#cf4446"/>
<rect x="32" y="96.50" width="8.5" height="9.7" fill="#cc4248"/>
<rect x="40" y="96.50" width="8.5" height="9.7" fill="#ca404a"/>
<rect x="48" y="96.50" width="8.5" height="9.7" fill="#ca404a"/>
<rect x="56" y="96.50" width="8.5" height="9.7" fill="#cb4149"/>
<rect x="64" y="96.50" width="8.5" height="9.7" fill="#c83f4b"/>
<rect x="72" y="96.50" width="8.5" height="9.7" fill="#c33b4f"/>
<rect x="80" y="96.50" width="8.5" height="9.7" fill="#c63d4d"/>
<rect x="88" y="96.50" width="8.5" height="9.7" fill="#bf3952"/>
<rect x="96" y="96.50" width="8.5" height="9.7" fill="#bf3952"/>
<rect x="104" y="96.50" width="8.5" height="9.7" fill="#bd3853"/>
<rect x="112" y="96.50" width="8.5" height="9.7" fill="#c03a51"/>
<rect x="120" y="96.50" width="8" height="9.7" fill="#b73557"/>
<rect x="0" y="104.55" width="8.5" height="9.7" fill="#d54a41"/>
<rect x="8" y="104.55" width="8.5" height="9.7" fill="#d34743"/>
<rect x="16" y="104.55" width="8.5" height="9.7" fill="#cf4446"/>
<rect x="24" y="104.55" width="8.5" height="9.7" fill="#d04545"/>
<rect x="32" y="104.55" width="8.5" height="9.7" fill="#d04545"/>
<rect x="40" y="104.55" width="8.5" height="9.7" fill="#ce4347"/>
<rect x="48" y="104.55" width="8.5" height="9.7" fill="#c83f4b"/>
<rect x="56" y="104.55" width="8.5" height="9.7" fill="#cb4149"/>
<rect x="64" y="104.55" width="8.5" height="9.7" fill="#c73e4c"/>
<rect x="72" y="104.55" width="8.5" height="9.7" fill="#c83f4b"/>
<rect x="80" y="104.55" width="8.5" height="9.7" fill="#c43c4e"/>
<rect x="88" y="104.55" width="8.5" height="9.7" fill="#c03a51"/>
<rect x="96" y="104.55" width="8.5" height="9.7" fill="#c33b4f"/>
<rect x="104" y="104.55" width="8.5" height="9.7" fill="#c03a51"/>
<rect x="112" y="104.55" width="8.5" height="9.7" fill="#bd3853"/>
<rect x="120" y="104.55" width="8" height="9.7" fill="#bd3853"/>
<rect x="0" y="112.59" width="8.5" height="9.7" fill="#e15635"/>
<rect x="8" y="112.59" width="8.5" height="9.7" fill="#de5238"/>
<rect x="16" y="112.59" width="8.5" height="9.7" fill="#d54a41"/>
<rect x="24" y="112.59" width="8.5" height="9.7" fill="#cf4446"/>
<rect x="32" y="112.59" width="8.5" height="9.7" fill="#ce4347"/>
<rect x="40" y="112.59" width="8.5" height="9.7" fill="#cb4149"/>
<rect x="48" y="112.59" width="8.5" height="9.7" fill="#ce4347"/>
<rect x="56" y="112.59" width="8.5" height="9.7" fill="#ce4347"/>
<rect x="64" y="112.59" width="8.5" height="9.7" fill="#c83f4b"/>
<rect x="72" y="112.59" width="8.5" height="9.7" fill="#ca404a"/>
<rect x="80" y="112.59" width="8.5" height="9.7" fill="#c43c4e"/>
<rect x="88" y="112.59" width="8.5" height="9.7" fill="#c33b4f"/>
<rect x="96" y="112.59" width="8.5" height="9.7" fill="#c13a50"/>
<rect x="104" y="112.59" width="8.5" height="9.7" fill="#bf3952"/>
<rect x="112" y="112.59" width="8.5" height="9.7" fill="#c03a51"/>
<rect x="120" y="112.59" width="8" height="9.7" fill="#bc3754"/>
<rect x="0" y="120.63" width="8.5" height="8.04" fill="#e05536"/>
<rect x="8" y="120.63" width="8.5" height="8.04" fill="#e25734"/>
<rect x="16" y="120.63" width="8.5" height="8.04" fill="#d34743"/>
<rect x="24" y="120.63" width="8.5" height="8.04" fill="#d24644"/>
<rect x="32" y="120.63" width="8.5" height="8.04" fill="#cf4446"/>
<rect x="40" y="120.63" width="8.5" height="8.04" fill="#cc4248"/>
<rect x="48" y="120.63" width="8.5" height="8.04" fill="#cf4446"/>
<rect x="56" y="120.63" width="8.5" height="8.04" fill="#cb4149"/>
<rect x="64" y="120.63" width="8.5" height="8.04" fill="#ce4347"/>
<rect x="72" y="120.63" width="8.5" height="8.04" fill="#c63d4d"/>
<rect x="80" y="120.63" width="8.5" height="8.04" fill="#ca404a"/>
<rect x="88" y="120.63" width="8.5" height="8.04" fill="#c13a50"/>
<rect x="96" y="120.63" width="8.5" height="8.04" fill="#c13a50"/>
<rect x="104" y="120.63" width="8.5" height="8.04" fill="#bf3952"/>
<rect x="112" y="120.63" width="8.5" height="8.04" fill="#c03a51"/>
<rect x="120" y="120.63" width="8" height="8.04" fill="#bd3853"/>
</g>
<text x="1485.4" y="396.1" font-size="24.5" font-family="'DejaVu Sans', 'Liberation Sans', sans-serif" text-anchor="middle" textLength="19.8" lengthAdjust="spacingAndGlyphs" font-weight="bold" fill="#fff">R</text>
<rect x="760.4" y="96.7" width="34.7" height="375.2" fill="url(#inf)" stroke="#000" stroke-width="3"/>
<path d="M795.1,140.3 h4.7" stroke="#000" stroke-width="1.4"/>
<text x="801.5" y="151.0" font-size="32.5" font-family="'Liberation Sans', sans-serif" textLength="54.0" lengthAdjust="spacingAndGlyphs" stroke="#000" stroke-width="0.45">150</text>
<path d="M795.1,284.6 h4.7" stroke="#000" stroke-width="1.4"/>
<text x="801.5" y="295.2" font-size="32.5" font-family="'Liberation Sans', sans-serif" textLength="18.0" lengthAdjust="spacingAndGlyphs" stroke="#000" stroke-width="0.45">0</text>
<path d="M795.1,428.9 h4.7" stroke="#000" stroke-width="1.4"/>
<text x="802.7" y="439.5" font-size="32.5" font-family="'Liberation Sans', sans-serif" textLength="65.4" lengthAdjust="spacingAndGlyphs" stroke="#000" stroke-width="0.45">-150</text>
<path d="M795.1,212.5 h4.2" stroke="#000" stroke-width="1.2"/>
<path d="M795.1,356.8 h4.2" stroke="#000" stroke-width="1.2"/>
<text x="744.5" y="91.0" font-size="31.5" font-family="'Liberation Sans', sans-serif" textLength="141.5" lengthAdjust="spacingAndGlyphs" stroke="#000" stroke-width="0.45">OPD (nm)</text>
<rect x="1626.5" y="97.6" width="34.8" height="374.8" fill="url(#inf)" stroke="#000" stroke-width="3"/>
<path d="M1661.3,140.8 h4.7" stroke="#000" stroke-width="1.4"/>
<text x="1666.7" y="152.1" font-size="32.5" font-family="'Liberation Sans', sans-serif" textLength="54.0" lengthAdjust="spacingAndGlyphs" stroke="#000" stroke-width="0.45">200</text>
<path d="M1661.3,212.9 h4.7" stroke="#000" stroke-width="1.4"/>
<text x="1666.7" y="224.2" font-size="32.5" font-family="'Liberation Sans', sans-serif" textLength="54.0" lengthAdjust="spacingAndGlyphs" stroke="#000" stroke-width="0.45">100</text>
<path d="M1661.3,285.0 h4.7" stroke="#000" stroke-width="1.4"/>
<text x="1666.7" y="296.2" font-size="32.5" font-family="'Liberation Sans', sans-serif" textLength="18.0" lengthAdjust="spacingAndGlyphs" stroke="#000" stroke-width="0.45">0</text>
<path d="M1661.3,357.1 h4.7" stroke="#000" stroke-width="1.4"/>
<text x="1667.2" y="368.4" font-size="32.5" font-family="'Liberation Sans', sans-serif" textLength="65.4" lengthAdjust="spacingAndGlyphs" stroke="#000" stroke-width="0.45">-100</text>
<path d="M1661.3,429.2 h4.7" stroke="#000" stroke-width="1.4"/>
<text x="1667.2" y="440.4" font-size="32.5" font-family="'Liberation Sans', sans-serif" textLength="65.4" lengthAdjust="spacingAndGlyphs" stroke="#000" stroke-width="0.45">-200</text>
<text x="1611.0" y="91.0" font-size="31.5" font-family="'Liberation Sans', sans-serif" textLength="141.5" lengthAdjust="spacingAndGlyphs" stroke="#000" stroke-width="0.45">OPD (nm)</text>
<g clip-path="url(#clipC)">
<g fill="#ff0000"><circle cx="1016.4" cy="73.4" r="3.9"/><circle cx="1024.6" cy="84.5" r="3.9"/><circle cx="1032.8" cy="96.1" r="3.9"/><circle cx="1041.0" cy="111.9" r="3.9"/><circle cx="1049.2" cy="121.6" r="3.9"/><circle cx="1057.3" cy="135.7" r="3.9"/><circle cx="1065.5" cy="147.7" r="3.9"/><circle cx="1073.7" cy="158.4" r="3.9"/><circle cx="1081.9" cy="170.1" r="3.9"/><circle cx="1090.1" cy="183.2" r="3.9"/><circle cx="1098.3" cy="192.8" r="3.9"/><circle cx="1106.5" cy="201.8" r="3.9"/><circle cx="1114.7" cy="211.5" r="3.9"/><circle cx="1122.9" cy="222.4" r="3.9"/><circle cx="1131.1" cy="232.0" r="3.9"/><circle cx="1139.3" cy="241.7" r="3.9"/><circle cx="1147.5" cy="250.6" r="3.9"/><circle cx="1155.7" cy="259.8" r="3.9"/><circle cx="1163.9" cy="267.8" r="3.9"/><circle cx="1172.1" cy="275.4" r="3.9"/><circle cx="1180.3" cy="283.8" r="3.9"/><circle cx="1188.5" cy="292.8" r="3.9"/><circle cx="1196.7" cy="301.7" r="3.9"/><circle cx="1204.9" cy="309.4" r="3.9"/><circle cx="1213.1" cy="317.3" r="3.9"/><circle cx="1221.2" cy="326.3" r="3.9"/><circle cx="1229.4" cy="332.5" r="3.9"/><circle cx="1237.6" cy="340.3" r="3.9"/><circle cx="1245.8" cy="346.0" r="3.9"/><circle cx="1254.0" cy="351.4" r="3.9"/><circle cx="1262.2" cy="358.2" r="3.9"/><circle cx="1270.4" cy="364.2" r="3.9"/><circle cx="1278.6" cy="370.8" r="3.9"/><circle cx="1286.8" cy="376.5" r="3.9"/><circle cx="1295.0" cy="381.9" r="3.9"/><circle cx="1303.2" cy="388.5" r="3.9"/><circle cx="1311.4" cy="393.6" r="3.9"/><circle cx="1319.6" cy="397.9" r="3.9"/><circle cx="1327.8" cy="405.7" r="3.9"/><circle cx="1336.0" cy="410.4" r="3.9"/><circle cx="1344.2" cy="414.4" r="3.9"/><circle cx="1352.4" cy="420.0" r="3.9"/><circle cx="1360.6" cy="424.5" r="3.9"/><circle cx="1368.8" cy="431.1" r="3.9"/><circle cx="1377.0" cy="433.3" r="3.9"/><circle cx="1385.2" cy="441.5" r="3.9"/><circle cx="1393.3" cy="448.6" r="3.9"/><circle cx="1401.5" cy="454.0" r="3.9"/><circle cx="1409.7" cy="454.9" r="3.9"/><circle cx="1417.9" cy="462.1" r="3.9"/><circle cx="1426.1" cy="463.4" r="3.9"/></g>
<path d="M1016.4,120.0 L1024.6,170.4 L1032.8,175.3 L1041.0,152.0 L1049.2,130.0 L1057.4,111.4 L1065.6,150.7 L1073.8,161.8 L1082.0,182.7 L1090.2,190.0 L1098.3,197.2 L1106.5,221.8 L1114.7,210.7 L1122.9,235.3 L1131.1,221.8 L1139.3,243.0 L1147.5,258.6 L1155.7,262.0 L1163.9,271.0 L1172.1,277.6 L1180.3,286.3 L1188.5,293.0 L1196.7,303.5 L1204.9,309.0 L1213.1,318.3 L1221.3,323.0 L1229.5,333.0 L1237.7,338.0 L1245.9,346.0 L1254.1,352.7 L1262.2,356.0 L1270.4,359.0 L1278.6,364.5 L1286.8,374.5 L1295.0,380.9 L1303.2,382.6 L1311.4,384.6 L1319.6,379.8 L1327.8,399.5 L1336.0,405.6 L1344.2,411.8 L1352.4,420.4 L1360.6,408.0 L1368.8,395.8 L1377.0,404.4 L1385.2,433.9 L1393.4,453.5 L1401.6,483.0 L1409.8,446.2 L1418.0,416.7 L1426.2,405.0" fill="none" stroke="#ff0000" stroke-width="7.5" stroke-linejoin="round" stroke-linecap="square"/>
<g fill="#00bfbf"><circle cx="1016.4" cy="218.2" r="3.9"/><circle cx="1024.6" cy="223.1" r="3.9"/><circle cx="1032.8" cy="229.1" r="3.9"/><circle cx="1041.0" cy="233.0" r="3.9"/><circle cx="1049.2" cy="239.0" r="3.9"/><circle cx="1057.3" cy="243.0" r="3.9"/><circle cx="1065.5" cy="247.5" r="3.9"/><circle cx="1073.7" cy="248.3" r="3.9"/><circle cx="1081.9" cy="250.2" r="3.9"/><circle cx="1090.1" cy="255.5" r="3.9"/><circle cx="1098.3" cy="259.4" r="3.9"/><circle cx="1106.5" cy="265.8" r="3.9"/><circle cx="1114.7" cy="268.9" r="3.9"/><circle cx="1122.9" cy="266.6" r="3.9"/><circle cx="1131.1" cy="271.5" r="3.9"/><circle cx="1139.3" cy="275.4" r="3.9"/><circle cx="1147.5" cy="282.0" r="3.9"/><circle cx="1155.7" cy="286.1" r="3.9"/><circle cx="1163.9" cy="287.7" r="3.9"/><circle cx="1172.1" cy="292.5" r="3.9"/><circle cx="1180.3" cy="295.0" r="3.9"/><circle cx="1188.5" cy="297.8" r="3.9"/><circle cx="1196.7" cy="299.2" r="3.9"/><circle cx="1204.9" cy="303.6" r="3.9"/><circle cx="1213.1" cy="305.6" r="3.9"/><circle cx="1221.2" cy="309.5" r="3.9"/><circle cx="1229.4" cy="310.6" r="3.9"/><circle cx="1237.6" cy="313.6" r="3.9"/><circle cx="1245.8" cy="315.6" r="3.9"/><circle cx="1254.0" cy="318.0" r="3.9"/><circle cx="1262.2" cy="321.4" r="3.9"/><circle cx="1270.4" cy="324.9" r="3.9"/><circle cx="1278.6" cy="326.8" r="3.9"/><circle cx="1286.8" cy="329.1" r="3.9"/><circle cx="1295.0" cy="333.2" r="3.9"/><circle cx="1303.2" cy="335.3" r="3.9"/><circle cx="1311.4" cy="338.5" r="3.9"/><circle cx="1319.6" cy="339.5" r="3.9"/><circle cx="1327.8" cy="341.9" r="3.9"/><circle cx="1336.0" cy="346.3" r="3.9"/><circle cx="1344.2" cy="346.8" r="3.9"/><circle cx="1352.4" cy="351.1" r="3.9"/><circle cx="1360.6" cy="354.1" r="3.9"/><circle cx="1368.8" cy="356.1" r="3.9"/><circle cx="1377.0" cy="358.4" r="3.9"/><circle cx="1385.2" cy="360.5" r="3.9"/><circle cx="1393.3" cy="362.9" r="3.9"/><circle cx="1401.5" cy="365.0" r="3.9"/><circle cx="1409.7" cy="368.3" r="3.9"/><circle cx="1417.9" cy="371.2" r="3.9"/><circle cx="1426.1" cy="373.2" r="3.9"/></g>
<path d="M1016.4,249.5 L1024.6,249.5 L1032.8,262.3 L1041.0,240.0 L1049.2,218.1 L1057.4,223.0 L1065.6,227.9 L1073.8,245.1 L1082.0,251.3 L1090.2,280.7 L1098.3,276.0 L1106.5,272.1 L1114.7,263.0 L1122.9,254.9 L1131.1,269.7 L1139.3,271.6 L1147.5,271.6 L1155.7,265.5 L1163.9,291.3 L1172.1,309.7 L1180.3,303.5 L1188.5,291.3 L1196.7,299.7 L1204.9,304.8 L1213.1,293.7 L1221.3,293.7 L1229.5,314.6 L1237.7,315.9 L1245.9,318.3 L1254.1,323.2 L1262.2,318.3 L1270.4,303.5 L1278.6,339.0 L1286.8,334.5 L1295.0,332.8 L1303.2,330.5 L1311.4,340.4 L1319.6,350.2 L1327.8,337.9 L1336.0,376.0 L1344.2,356.3 L1352.4,373.5 L1360.6,333.0 L1368.8,323.2 L1377.0,344.0 L1385.2,368.6 L1393.4,387.0 L1401.6,340.4 L1409.8,342.8 L1418.0,390.7 L1426.2,339.2" fill="none" stroke="#00bfbf" stroke-width="7.5" stroke-linejoin="round" stroke-linecap="square"/>
<path d="M1016.4,130.6 L1023.3,136.9 L1030.3,143.2 L1037.2,149.5 L1044.2,155.8 L1051.1,162.0 L1058.0,168.2 L1065.0,174.3 L1071.9,180.5 L1078.9,186.6 L1085.8,192.6 L1092.8,198.7 L1099.7,204.7 L1106.7,210.6 L1113.6,216.6 L1120.5,222.5 L1127.5,228.4 L1134.4,234.2 L1141.4,240.0 L1148.3,245.8 L1155.3,251.6 L1162.2,257.3 L1169.2,263.0 L1176.1,268.7 L1183.1,274.3 L1190.0,279.9 L1196.9,285.5 L1203.9,291.0 L1210.8,296.5 L1217.8,302.0 L1224.7,307.4 L1231.7,312.8 L1238.6,318.2 L1245.6,323.6 L1252.5,328.9 L1259.4,334.2 L1266.4,339.4 L1273.3,344.6 L1280.3,349.8 L1287.2,355.0 L1294.2,360.1 L1301.1,365.2 L1308.1,370.3 L1315.0,375.3 L1322.0,380.3 L1328.9,385.3 L1335.8,390.3 L1342.8,395.2 L1349.7,400.0 L1356.7,404.9 L1363.6,409.7 L1370.6,414.5 L1377.5,419.3 L1384.5,424.0 L1391.4,428.7 L1398.3,433.3 L1405.3,438.0 L1412.2,442.6 L1419.2,447.1 L1426.1,451.7" fill="none" stroke="#808080" stroke-width="5.3" stroke-linejoin="round" stroke-linecap="butt" stroke-dasharray="33.85 8.5 5.35 8.5"/>
<path d="M1016.4,231.5 L1023.3,234.2 L1030.3,236.8 L1037.2,239.4 L1044.2,242.0 L1051.1,244.6 L1058.0,247.2 L1065.0,249.8 L1071.9,252.3 L1078.9,254.9 L1085.8,257.4 L1092.8,259.9 L1099.7,262.4 L1106.7,264.9 L1113.6,267.4 L1120.5,269.9 L1127.5,272.4 L1134.4,274.9 L1141.4,277.3 L1148.3,279.7 L1155.3,282.2 L1162.2,284.6 L1169.2,287.0 L1176.1,289.4 L1183.1,291.8 L1190.0,294.2 L1196.9,296.5 L1203.9,298.9 L1210.8,301.2 L1217.8,303.5 L1224.7,305.9 L1231.7,308.2 L1238.6,310.5 L1245.6,312.7 L1252.5,315.0 L1259.4,317.3 L1266.4,319.5 L1273.3,321.8 L1280.3,324.0 L1287.2,326.2 L1294.2,328.4 L1301.1,330.6 L1308.1,332.8 L1315.0,335.0 L1322.0,337.2 L1328.9,339.3 L1335.8,341.5 L1342.8,343.6 L1349.7,345.7 L1356.7,347.8 L1363.6,349.9 L1370.6,352.0 L1377.5,354.1 L1384.5,356.2 L1391.4,358.2 L1398.3,360.3 L1405.3,362.3 L1412.2,364.3 L1419.2,366.3 L1426.1,368.3" fill="none" stroke="#808080" stroke-width="5.3" stroke-linejoin="round" stroke-linecap="butt" stroke-dasharray="33.5 8.4 5.3 8.4"/>
</g>
<rect x="996.1" y="53.0" width="450.5" height="449.4" fill="none" stroke="#000" stroke-width="3.0"/>
<path d="M1035.0,502.4 v5.4" stroke="#000" stroke-width="1.4"/>
<path d="M1221.2,502.4 v5.4" stroke="#000" stroke-width="1.4"/>
<path d="M1407.5,502.4 v5.4" stroke="#000" stroke-width="1.4"/>
<path d="M1128.1,502.4 v4.6" stroke="#000" stroke-width="1.2"/>
<path d="M1314.4,502.4 v4.6" stroke="#000" stroke-width="1.2"/>
<path d="M996.1,87.0 h-5.4" stroke="#000" stroke-width="1.4"/>
<path d="M996.1,141.4 h-5.4" stroke="#000" stroke-width="1.4"/>
<path d="M996.1,195.8 h-5.4" stroke="#000" stroke-width="1.4"/>
<path d="M996.1,250.3 h-5.4" stroke="#000" stroke-width="1.4"/>
<path d="M996.1,304.7 h-5.4" stroke="#000" stroke-width="1.4"/>
<path d="M996.1,359.1 h-5.4" stroke="#000" stroke-width="1.4"/>
<path d="M996.1,413.6 h-5.4" stroke="#000" stroke-width="1.4"/>
<path d="M996.1,468.0 h-5.4" stroke="#000" stroke-width="1.4"/>
<text x="990.3" y="98.3" font-size="32.5" font-family="'Liberation Sans', sans-serif" text-anchor="end" textLength="36.0" lengthAdjust="spacingAndGlyphs" stroke="#000" stroke-width="0.45">80</text>
<text x="990.3" y="152.7" font-size="32.5" font-family="'Liberation Sans', sans-serif" text-anchor="end" textLength="36.0" lengthAdjust="spacingAndGlyphs" stroke="#000" stroke-width="0.45">60</text>
<text x="990.3" y="207.1" font-size="32.5" font-family="'Liberation Sans', sans-serif" text-anchor="end" textLength="36.0" lengthAdjust="spacingAndGlyphs" stroke="#000" stroke-width="0.45">40</text>
<text x="990.3" y="261.6" font-size="32.5" font-family="'Liberation Sans', sans-serif" text-anchor="end" textLength="36.0" lengthAdjust="spacingAndGlyphs" stroke="#000" stroke-width="0.45">20</text>
<text x="990.3" y="316.0" font-size="32.5" font-family="'Liberation Sans', sans-serif" text-anchor="end" textLength="18.0" lengthAdjust="spacingAndGlyphs" stroke="#000" stroke-width="0.45">0</text>
<text x="990.3" y="370.4" font-size="32.5" font-family="'Liberation Sans', sans-serif" text-anchor="end" textLength="47.4" lengthAdjust="spacingAndGlyphs" stroke="#000" stroke-width="0.45">-20</text>
<text x="990.3" y="424.9" font-size="32.5" font-family="'Liberation Sans', sans-serif" text-anchor="end" textLength="47.4" lengthAdjust="spacingAndGlyphs" stroke="#000" stroke-width="0.45">-40</text>
<text x="990.3" y="479.3" font-size="32.5" font-family="'Liberation Sans', sans-serif" text-anchor="end" textLength="47.4" lengthAdjust="spacingAndGlyphs" stroke="#000" stroke-width="0.45">-60</text>
<text x="1035.4" y="536.3" font-size="32.5" font-family="'Liberation Sans', sans-serif" text-anchor="middle" textLength="54.0" lengthAdjust="spacingAndGlyphs" stroke="#000" stroke-width="0.45">550</text>
<text x="1221.7" y="536.3" font-size="32.5" font-family="'Liberation Sans', sans-serif" text-anchor="middle" textLength="54.0" lengthAdjust="spacingAndGlyphs" stroke="#000" stroke-width="0.45">600</text>
<text x="1407.9" y="536.3" font-size="32.5" font-family="'Liberation Sans', sans-serif" text-anchor="middle" textLength="54.0" lengthAdjust="spacingAndGlyphs" stroke="#000" stroke-width="0.45">650</text>
<text x="1221.2" y="563.0" font-size="31.5" font-family="'Liberation Sans', sans-serif" text-anchor="middle" textLength="249.0" lengthAdjust="spacingAndGlyphs" stroke="#000" stroke-width="0.45">Wavelength (nm)</text>
<text x="925.3" y="258.3" font-size="31.5" font-family="'Liberation Sans', sans-serif" text-anchor="middle" textLength="277.5" lengthAdjust="spacingAndGlyphs" stroke="#000" stroke-width="0.45" transform="rotate(-90 925.3 258.3)">Peak to valley (nm)</text>
<rect x="1210.2" y="62.7" width="227" height="114.2" rx="4.5" fill="#fff" fill-opacity="0.8" stroke="#d3d3d3" stroke-width="3.4"/>
<circle cx="1244.0" cy="82.7" r="4.2"/>
<path d="M1216.4,118.4 h56" stroke="#000" stroke-width="7.6"/>
<path d="M1220.3,153.9 h33.6 m8,0 h5.5" stroke="#808080" stroke-width="5.4"/>
<text x="1278.3" y="90.7" font-size="30" font-family="'Liberation Sans', sans-serif" textLength="141.0" lengthAdjust="spacingAndGlyphs" stroke="#000" stroke-width="0.45">Sequential</text>
<text x="1277.9" y="126.3" font-size="30" font-family="'Liberation Sans', sans-serif" textLength="157.5" lengthAdjust="spacingAndGlyphs" stroke="#000" stroke-width="0.45">Multiplexed</text>
<text x="1277.9" y="161.9" font-size="30" font-family="'Liberation Sans', sans-serif" textLength="120.5" lengthAdjust="spacingAndGlyphs" stroke="#000" stroke-width="0.45">Expected</text>
<text x="1327.4" y="306.3" font-size="33.6" font-family="'DejaVu Sans', 'Liberation Sans', sans-serif" textLength="109.0" lengthAdjust="spacingAndGlyphs" font-weight="bold" fill="#00bfbf">NBK7</text>
<text x="1223.8" y="444.3" font-size="33.6" font-family="'DejaVu Sans', 'Liberation Sans', sans-serif" textLength="100.0" lengthAdjust="spacingAndGlyphs" font-weight="bold" fill="#ff0000">SF11</text>
</svg>
</body></html>
